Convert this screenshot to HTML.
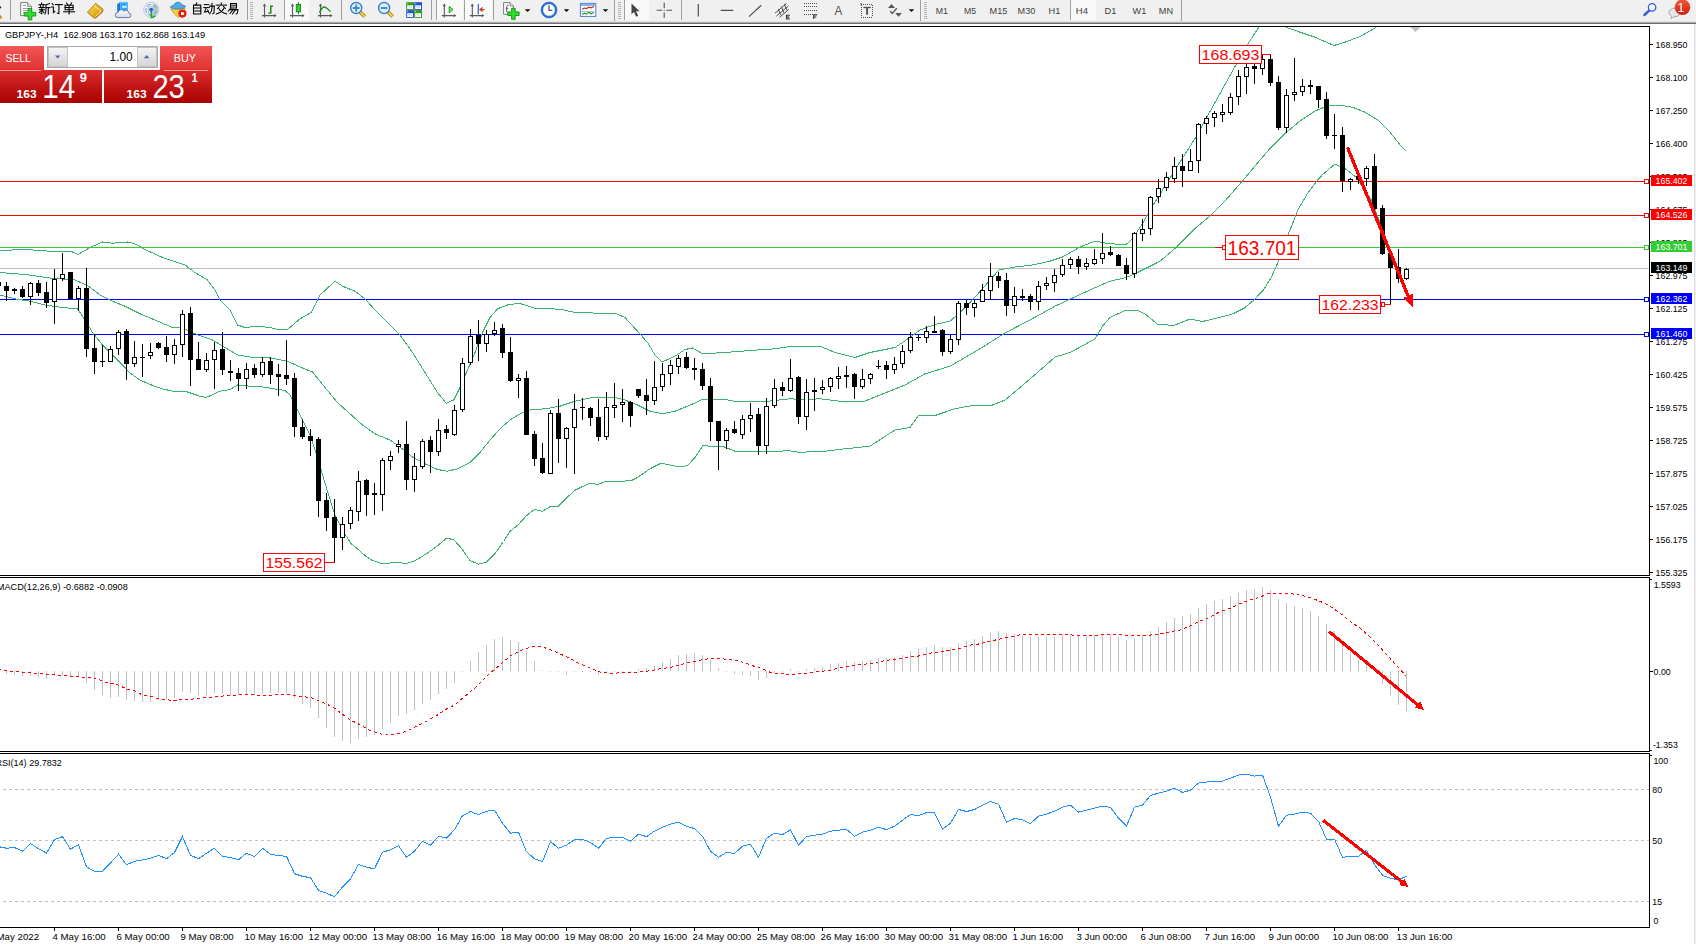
<!DOCTYPE html>
<html><head><meta charset="utf-8"><title>GBPJPY H4</title>
<style>
html,body{margin:0;padding:0;background:#fff;}
body{width:1696px;height:944px;overflow:hidden;font-family:"Liberation Sans",sans-serif;}
svg{display:block;position:absolute;left:0;top:0;}
svg text{font-family:"Liberation Sans",sans-serif;white-space:pre;}
.c{shape-rendering:crispEdges;}
</style></head><body>
<svg width="1696" height="944" viewBox="0 0 1696 944">
<defs>
<clipPath id="cpMain"><rect x="0" y="27" width="1649" height="548"/></clipPath>
<clipPath id="cpMacd"><rect x="0" y="578" width="1649" height="173"/></clipPath>
<clipPath id="cpRsi"><rect x="0" y="754" width="1649" height="173"/></clipPath>
<linearGradient id="gSell" x1="0" y1="0" x2="0" y2="1"><stop offset="0" stop-color="#f25555"/><stop offset="1" stop-color="#e03030"/></linearGradient>
<linearGradient id="gPrice" x1="0" y1="0" x2="0" y2="1"><stop offset="0" stop-color="#dc2c2c"/><stop offset="1" stop-color="#a80000"/></linearGradient>
<linearGradient id="gBtn" x1="0" y1="0" x2="0" y2="1"><stop offset="0" stop-color="#f4f4f4"/><stop offset="1" stop-color="#d4d4d4"/></linearGradient>
<linearGradient id="gBadge" x1="0" y1="0" x2="0" y2="1"><stop offset="0" stop-color="#ee5a3a"/><stop offset="1" stop-color="#d21a0c"/></linearGradient>
<linearGradient id="gTb" x1="0" y1="0" x2="0" y2="1"><stop offset="0" stop-color="#f0f0f0"/><stop offset="0.3" stop-color="#d8d8d8"/><stop offset="0.8" stop-color="#6a6a6a"/><stop offset="1" stop-color="#8a8a8a"/></linearGradient>
</defs>

<rect x="0" y="0" width="1696" height="944" fill="#fff"/>
<rect x="0" y="0" width="1696" height="21" fill="#f0f0f0"/>
<rect x="0" y="21" width="1696" height="3" fill="url(#gTb)"/>
<rect x="1694" y="24" width="1" height="920" fill="#dcdcdc" class="c"/>
<rect x="1695" y="24" width="1" height="920" fill="#f0f0f0" class="c"/>
<g class="c">
<rect x="0" y="26" width="1650" height="1" fill="#000"/>
<rect x="1649" y="26" width="1" height="550" fill="#000"/>
<rect x="0" y="575" width="1650" height="1" fill="#000"/>
<rect x="0" y="577" width="1650" height="1" fill="#000"/>
<rect x="1649" y="577" width="1" height="175" fill="#000"/>
<rect x="0" y="751" width="1650" height="1" fill="#000"/>
<rect x="0" y="753" width="1650" height="1" fill="#000"/>
<rect x="1649" y="753" width="1" height="175" fill="#000"/>
<rect x="0" y="927" width="1650" height="1" fill="#000"/>
</g>
<g clip-path="url(#cpMain)">
<g class="c">
<rect x="0" y="268" width="1649" height="1" fill="#c0c0c0"/>
<rect x="0" y="181" width="1649" height="1" fill="#ff0000"/>
<rect x="0" y="215" width="1649" height="1" fill="#ff0000"/>
<rect x="0" y="247" width="1649" height="1" fill="#32cd32"/>
<rect x="0" y="299" width="1649" height="1" fill="#0000ff"/>
<rect x="0" y="334" width="1649" height="1" fill="#0000ff"/>
</g>
<polyline points="0.0,250.5 25.0,249.5 50.0,251.2 72.5,252.0 78.0,254.5 90.0,247.5 102.5,242.0 112.5,243.2 127.5,242.0 135.0,243.8 145.0,249.5 162.5,257.5 185.0,265.0 195.0,272.5 207.5,280.0 215.0,290.0 220.0,300.0 230.0,310.0 237.5,325.0 245.0,327.5 257.5,326.2 270.0,327.5 280.0,330.0 287.5,329.5 300.0,318.8 311.2,312.5 320.0,295.0 335.0,281.2 342.5,286.2 355.0,291.2 365.0,298.8 375.0,310.0 387.5,322.5 400.0,335.0 412.5,352.5 425.0,372.5 437.5,392.5 446.2,403.2 453.8,400.0 460.0,387.5 467.5,370.0 475.0,352.5 482.5,332.5 490.0,317.5 497.5,308.8 507.5,305.0 518.8,303.2 527.5,305.8 535.0,308.2 560.0,309.2 575.0,312.5 600.0,313.2 615.0,313.2 625.0,317.5 637.5,331.2 647.5,342.5 655.0,355.0 662.0,362.0 675.0,356.2 685.0,349.5 692.5,348.0 702.5,353.8 725.0,352.5 750.0,350.5 775.0,348.8 790.0,346.5 812.5,346.5 820.0,346.2 835.0,352.5 855.0,357.5 870.0,352.5 895.0,347.5 906.2,340.0 920.0,330.0 935.0,324.5 950.0,321.2 960.0,312.5 970.0,302.5 982.5,288.8 998.8,270.0 1015.0,267.0 1032.5,265.0 1050.0,261.2 1062.5,257.0 1080.0,247.0 1095.0,241.2 1110.0,243.8 1126.2,244.5 1132.5,238.5 1142.5,223.5 1152.5,206.0 1165.0,186.0 1177.5,166.0 1195.0,138.5 1207.5,116.0 1220.0,93.5 1232.5,71.0 1245.0,48.5 1258.8,27.2 1266.0,17.0 1279.0,17.0 1286.2,27.2 1300.0,32.2 1315.0,37.2 1333.8,45.5 1345.0,42.2 1360.0,36.5 1375.0,28.0 1390.0,15.0 1406.5,5.0" fill="none" stroke="#3cb371" stroke-width="1" class="c"/>
<polyline points="0.0,272.5 25.0,274.5 50.0,278.0 75.0,280.0 87.5,285.5 100.0,295.0 112.5,301.2 125.0,306.2 140.0,313.8 155.0,320.0 172.5,327.5 182.5,328.0 195.0,333.8 212.5,340.0 225.0,347.5 237.5,355.0 250.0,357.0 262.5,357.0 275.0,358.8 287.5,361.2 300.0,367.0 312.5,372.0 325.0,387.5 337.5,402.5 350.0,413.8 362.5,425.0 375.0,433.8 390.0,440.0 400.0,447.0 412.5,457.0 425.0,463.8 437.5,469.5 447.5,471.2 457.5,468.8 470.0,462.5 480.0,452.5 490.0,440.0 500.0,428.8 510.0,420.0 520.0,413.8 530.0,410.0 545.0,408.8 560.0,406.2 575.0,401.2 590.0,398.0 605.0,397.0 615.0,397.5 625.0,400.0 637.5,405.0 650.0,411.2 662.5,413.8 675.0,411.2 687.5,406.2 702.5,399.5 725.0,399.5 737.5,401.8 762.5,401.8 775.0,400.5 790.0,398.8 805.0,399.5 820.0,398.8 840.0,401.2 862.5,402.0 880.0,395.0 905.0,385.0 925.0,373.8 950.0,366.2 965.0,357.5 980.0,348.8 1005.0,333.0 1030.0,320.0 1055.0,306.2 1072.5,298.0 1092.5,288.8 1110.0,281.2 1126.2,277.5 1135.0,273.8 1160.0,261.2 1177.5,246.2 1195.0,228.5 1210.0,216.0 1225.0,201.0 1242.5,181.0 1255.0,166.0 1270.0,148.5 1285.0,133.5 1300.0,121.0 1315.0,111.0 1327.5,106.0 1340.0,105.2 1352.5,107.2 1365.0,112.2 1377.5,119.8 1390.0,132.2 1400.0,144.8 1406.5,151.5" fill="none" stroke="#3cb371" stroke-width="1" class="c"/>
<polyline points="0.0,295.0 15.0,298.8 30.0,301.2 45.0,305.0 62.5,307.5 77.5,308.8 85.0,320.0 92.5,332.5 102.5,345.0 112.5,355.0 122.5,365.0 130.0,373.0 140.0,380.0 150.0,384.5 162.5,388.8 172.5,391.2 187.5,392.0 200.0,396.2 206.2,397.5 220.0,391.2 230.0,389.5 237.5,385.0 250.0,386.2 262.5,387.0 275.0,389.0 285.0,390.5 290.0,395.0 295.0,405.0 302.5,420.0 310.5,436.0 318.5,461.0 326.5,488.0 334.5,514.0 342.5,530.0 350.5,543.0 358.8,550.0 365.0,555.6 372.5,560.6 381.2,563.5 390.0,563.0 397.5,562.5 406.2,563.5 415.0,560.6 420.0,557.8 428.6,552.3 437.3,545.9 446.6,538.2 453.8,539.7 461.8,548.7 469.7,560.3 478.3,564.2 486.3,562.1 494.9,553.8 503.5,541.5 510.0,531.5 517.9,525.0 526.6,515.6 534.5,509.4 542.4,511.3 550.3,506.5 558.3,506.3 566.9,497.6 574.8,490.4 582.8,486.4 590.0,483.2 597.9,484.4 605.8,481.3 621.6,481.3 632.0,480.3 637.5,477.5 650.0,468.8 661.2,463.2 670.0,465.0 680.0,467.0 687.5,465.5 695.0,457.5 703.0,445.5 710.0,446.2 722.5,446.2 735.0,451.2 745.0,452.0 762.5,451.2 775.0,452.0 787.5,450.5 800.0,452.5 812.5,451.5 820.0,451.8 845.0,448.8 870.0,446.2 895.0,430.0 910.0,427.5 918.8,415.0 935.0,415.5 955.0,408.8 975.0,405.0 992.5,405.0 1005.0,400.0 1020.0,387.5 1037.5,372.5 1055.0,357.0 1070.0,352.5 1085.0,344.5 1095.0,338.8 1102.5,326.2 1110.0,317.5 1125.0,310.5 1137.5,310.5 1145.0,313.8 1157.5,324.2 1173.8,325.5 1190.0,319.0 1202.5,321.5 1215.9,318.3 1231.8,314.3 1244.5,308.0 1254.0,300.0 1263.6,289.7 1271.5,277.0 1277.9,262.6 1285.8,240.4 1292.2,224.5 1298.5,208.6 1308.0,192.7 1317.6,180.0 1322.7,174.5 1335.0,164.0 1346.0,169.2 1356.6,177.7 1371.4,200.0 1382.0,228.0 1393.7,263.2 1405.4,292.4 1406.5,294.0" fill="none" stroke="#3cb371" stroke-width="1" class="c"/>
<g class="c">
<rect x="0" y="282" width="1" height="4" fill="#000"/>
<rect x="6" y="282" width="1" height="19" fill="#000"/>
<rect x="4" y="286" width="5" height="5" fill="#000"/>
<rect x="14" y="288" width="1" height="6" fill="#000"/>
<rect x="12" y="289" width="5" height="2" fill="#000"/>
<rect x="22" y="286" width="1" height="12" fill="#000"/>
<rect x="20" y="289" width="5" height="8" fill="#000"/>
<rect x="30" y="282" width="1" height="23" fill="#000"/>
<rect x="28" y="283" width="5" height="14" fill="#000"/>
<rect x="29" y="284" width="3" height="12" fill="#fff"/>
<rect x="38" y="280" width="1" height="16" fill="#000"/>
<rect x="36" y="283" width="5" height="10" fill="#000"/>
<rect x="46" y="282" width="1" height="26" fill="#000"/>
<rect x="44" y="292" width="5" height="11" fill="#000"/>
<rect x="54" y="269" width="1" height="55" fill="#000"/>
<rect x="52" y="279" width="5" height="23" fill="#000"/>
<rect x="53" y="280" width="3" height="21" fill="#fff"/>
<rect x="62" y="253" width="1" height="28" fill="#000"/>
<rect x="60" y="274" width="5" height="5" fill="#000"/>
<rect x="61" y="275" width="3" height="3" fill="#fff"/>
<rect x="70" y="272" width="1" height="27" fill="#000"/>
<rect x="68" y="272" width="5" height="27" fill="#000"/>
<rect x="78" y="286" width="1" height="25" fill="#000"/>
<rect x="76" y="288" width="5" height="11" fill="#000"/>
<rect x="77" y="289" width="3" height="9" fill="#fff"/>
<rect x="86" y="268" width="1" height="89" fill="#000"/>
<rect x="84" y="288" width="5" height="61" fill="#000"/>
<rect x="94" y="334" width="1" height="40" fill="#000"/>
<rect x="92" y="348" width="5" height="14" fill="#000"/>
<rect x="102" y="345" width="1" height="22" fill="#000"/>
<rect x="100" y="361" width="5" height="1" fill="#000"/>
<rect x="110" y="346" width="1" height="16" fill="#000"/>
<rect x="108" y="349" width="5" height="13" fill="#000"/>
<rect x="109" y="350" width="3" height="11" fill="#fff"/>
<rect x="118" y="330" width="1" height="25" fill="#000"/>
<rect x="116" y="332" width="5" height="17" fill="#000"/>
<rect x="117" y="333" width="3" height="15" fill="#fff"/>
<rect x="126" y="329" width="1" height="51" fill="#000"/>
<rect x="124" y="331" width="5" height="33" fill="#000"/>
<rect x="134" y="341" width="1" height="26" fill="#000"/>
<rect x="132" y="357" width="5" height="7" fill="#000"/>
<rect x="133" y="358" width="3" height="5" fill="#fff"/>
<rect x="142" y="344" width="1" height="33" fill="#000"/>
<rect x="140" y="357" width="5" height="1" fill="#000"/>
<rect x="150" y="343" width="1" height="16" fill="#000"/>
<rect x="148" y="352" width="5" height="4" fill="#000"/>
<rect x="149" y="353" width="3" height="2" fill="#fff"/>
<rect x="158" y="342" width="1" height="7" fill="#000"/>
<rect x="156" y="343" width="5" height="5" fill="#000"/>
<rect x="166" y="336" width="1" height="26" fill="#000"/>
<rect x="164" y="347" width="5" height="8" fill="#000"/>
<rect x="174" y="339" width="1" height="25" fill="#000"/>
<rect x="172" y="345" width="5" height="10" fill="#000"/>
<rect x="173" y="346" width="3" height="8" fill="#fff"/>
<rect x="182" y="310" width="1" height="47" fill="#000"/>
<rect x="180" y="314" width="5" height="31" fill="#000"/>
<rect x="181" y="315" width="3" height="29" fill="#fff"/>
<rect x="190" y="307" width="1" height="79" fill="#000"/>
<rect x="188" y="313" width="5" height="47" fill="#000"/>
<rect x="198" y="342" width="1" height="28" fill="#000"/>
<rect x="196" y="359" width="5" height="11" fill="#000"/>
<rect x="206" y="353" width="1" height="19" fill="#000"/>
<rect x="204" y="360" width="5" height="10" fill="#000"/>
<rect x="205" y="361" width="3" height="8" fill="#fff"/>
<rect x="214" y="342" width="1" height="47" fill="#000"/>
<rect x="212" y="350" width="5" height="10" fill="#000"/>
<rect x="213" y="351" width="3" height="8" fill="#fff"/>
<rect x="222" y="332" width="1" height="43" fill="#000"/>
<rect x="220" y="349" width="5" height="21" fill="#000"/>
<rect x="230" y="360" width="1" height="21" fill="#000"/>
<rect x="228" y="371" width="5" height="2" fill="#000"/>
<rect x="238" y="368" width="1" height="23" fill="#000"/>
<rect x="236" y="373" width="5" height="6" fill="#000"/>
<rect x="246" y="363" width="1" height="26" fill="#000"/>
<rect x="244" y="369" width="5" height="10" fill="#000"/>
<rect x="245" y="370" width="3" height="8" fill="#fff"/>
<rect x="254" y="364" width="1" height="14" fill="#000"/>
<rect x="252" y="368" width="5" height="7" fill="#000"/>
<rect x="262" y="357" width="1" height="20" fill="#000"/>
<rect x="260" y="362" width="5" height="13" fill="#000"/>
<rect x="261" y="363" width="3" height="11" fill="#fff"/>
<rect x="270" y="357" width="1" height="27" fill="#000"/>
<rect x="268" y="361" width="5" height="14" fill="#000"/>
<rect x="278" y="364" width="1" height="32" fill="#000"/>
<rect x="276" y="374" width="5" height="3" fill="#000"/>
<rect x="286" y="340" width="1" height="45" fill="#000"/>
<rect x="284" y="375" width="5" height="4" fill="#000"/>
<rect x="294" y="373" width="1" height="64" fill="#000"/>
<rect x="292" y="378" width="5" height="49" fill="#000"/>
<rect x="302" y="419" width="1" height="20" fill="#000"/>
<rect x="300" y="427" width="5" height="10" fill="#000"/>
<rect x="310" y="429" width="1" height="27" fill="#000"/>
<rect x="308" y="436" width="5" height="5" fill="#000"/>
<rect x="318" y="437" width="1" height="80" fill="#000"/>
<rect x="316" y="439" width="5" height="62" fill="#000"/>
<rect x="326" y="493" width="1" height="38" fill="#000"/>
<rect x="324" y="500" width="5" height="18" fill="#000"/>
<rect x="334" y="499" width="1" height="64" fill="#000"/>
<rect x="332" y="517" width="5" height="21" fill="#000"/>
<rect x="342" y="517" width="1" height="33" fill="#000"/>
<rect x="340" y="524" width="5" height="14" fill="#000"/>
<rect x="341" y="525" width="3" height="12" fill="#fff"/>
<rect x="350" y="507" width="1" height="22" fill="#000"/>
<rect x="348" y="510" width="5" height="14" fill="#000"/>
<rect x="349" y="511" width="3" height="12" fill="#fff"/>
<rect x="358" y="471" width="1" height="50" fill="#000"/>
<rect x="356" y="481" width="5" height="31" fill="#000"/>
<rect x="357" y="482" width="3" height="29" fill="#fff"/>
<rect x="366" y="479" width="1" height="37" fill="#000"/>
<rect x="364" y="480" width="5" height="15" fill="#000"/>
<rect x="374" y="483" width="1" height="32" fill="#000"/>
<rect x="372" y="493" width="5" height="2" fill="#000"/>
<rect x="382" y="458" width="1" height="53" fill="#000"/>
<rect x="380" y="460" width="5" height="35" fill="#000"/>
<rect x="381" y="461" width="3" height="33" fill="#fff"/>
<rect x="390" y="451" width="1" height="19" fill="#000"/>
<rect x="388" y="456" width="5" height="5" fill="#000"/>
<rect x="389" y="457" width="3" height="3" fill="#fff"/>
<rect x="398" y="440" width="1" height="13" fill="#000"/>
<rect x="396" y="444" width="5" height="3" fill="#000"/>
<rect x="397" y="445" width="3" height="1" fill="#fff"/>
<rect x="406" y="421" width="1" height="69" fill="#000"/>
<rect x="404" y="444" width="5" height="36" fill="#000"/>
<rect x="414" y="453" width="1" height="39" fill="#000"/>
<rect x="412" y="466" width="5" height="14" fill="#000"/>
<rect x="413" y="467" width="3" height="12" fill="#fff"/>
<rect x="422" y="439" width="1" height="30" fill="#000"/>
<rect x="420" y="441" width="5" height="26" fill="#000"/>
<rect x="421" y="442" width="3" height="24" fill="#fff"/>
<rect x="430" y="436" width="1" height="37" fill="#000"/>
<rect x="428" y="440" width="5" height="12" fill="#000"/>
<rect x="438" y="419" width="1" height="37" fill="#000"/>
<rect x="436" y="430" width="5" height="22" fill="#000"/>
<rect x="437" y="431" width="3" height="20" fill="#fff"/>
<rect x="446" y="425" width="1" height="14" fill="#000"/>
<rect x="444" y="429" width="5" height="4" fill="#000"/>
<rect x="454" y="405" width="1" height="31" fill="#000"/>
<rect x="452" y="410" width="5" height="25" fill="#000"/>
<rect x="453" y="411" width="3" height="23" fill="#fff"/>
<rect x="462" y="358" width="1" height="54" fill="#000"/>
<rect x="460" y="363" width="5" height="47" fill="#000"/>
<rect x="461" y="364" width="3" height="45" fill="#fff"/>
<rect x="470" y="329" width="1" height="36" fill="#000"/>
<rect x="468" y="336" width="5" height="27" fill="#000"/>
<rect x="469" y="337" width="3" height="25" fill="#fff"/>
<rect x="478" y="320" width="1" height="41" fill="#000"/>
<rect x="476" y="335" width="5" height="9" fill="#000"/>
<rect x="486" y="330" width="1" height="22" fill="#000"/>
<rect x="484" y="334" width="5" height="10" fill="#000"/>
<rect x="485" y="335" width="3" height="8" fill="#fff"/>
<rect x="494" y="322" width="1" height="14" fill="#000"/>
<rect x="492" y="330" width="5" height="4" fill="#000"/>
<rect x="493" y="331" width="3" height="2" fill="#fff"/>
<rect x="502" y="324" width="1" height="34" fill="#000"/>
<rect x="500" y="328" width="5" height="25" fill="#000"/>
<rect x="510" y="337" width="1" height="45" fill="#000"/>
<rect x="508" y="352" width="5" height="29" fill="#000"/>
<rect x="518" y="374" width="1" height="24" fill="#000"/>
<rect x="516" y="378" width="5" height="3" fill="#000"/>
<rect x="517" y="379" width="3" height="1" fill="#fff"/>
<rect x="526" y="371" width="1" height="64" fill="#000"/>
<rect x="524" y="378" width="5" height="57" fill="#000"/>
<rect x="534" y="431" width="1" height="35" fill="#000"/>
<rect x="532" y="434" width="5" height="25" fill="#000"/>
<rect x="542" y="443" width="1" height="31" fill="#000"/>
<rect x="540" y="458" width="5" height="15" fill="#000"/>
<rect x="550" y="410" width="1" height="64" fill="#000"/>
<rect x="548" y="413" width="5" height="61" fill="#000"/>
<rect x="549" y="414" width="3" height="59" fill="#fff"/>
<rect x="558" y="399" width="1" height="64" fill="#000"/>
<rect x="556" y="413" width="5" height="26" fill="#000"/>
<rect x="566" y="427" width="1" height="41" fill="#000"/>
<rect x="564" y="428" width="5" height="11" fill="#000"/>
<rect x="565" y="429" width="3" height="9" fill="#fff"/>
<rect x="574" y="394" width="1" height="80" fill="#000"/>
<rect x="572" y="409" width="5" height="19" fill="#000"/>
<rect x="573" y="410" width="3" height="17" fill="#fff"/>
<rect x="582" y="398" width="1" height="22" fill="#000"/>
<rect x="580" y="407" width="5" height="1" fill="#000"/>
<rect x="590" y="407" width="1" height="19" fill="#000"/>
<rect x="588" y="408" width="5" height="10" fill="#000"/>
<rect x="598" y="399" width="1" height="42" fill="#000"/>
<rect x="596" y="417" width="5" height="20" fill="#000"/>
<rect x="606" y="392" width="1" height="48" fill="#000"/>
<rect x="604" y="407" width="5" height="30" fill="#000"/>
<rect x="605" y="408" width="3" height="28" fill="#fff"/>
<rect x="614" y="383" width="1" height="35" fill="#000"/>
<rect x="612" y="405" width="5" height="3" fill="#000"/>
<rect x="613" y="406" width="3" height="1" fill="#fff"/>
<rect x="622" y="389" width="1" height="33" fill="#000"/>
<rect x="620" y="402" width="5" height="3" fill="#000"/>
<rect x="621" y="403" width="3" height="1" fill="#fff"/>
<rect x="630" y="401" width="1" height="26" fill="#000"/>
<rect x="628" y="402" width="5" height="14" fill="#000"/>
<rect x="638" y="389" width="1" height="9" fill="#000"/>
<rect x="636" y="389" width="5" height="7" fill="#000"/>
<rect x="646" y="379" width="1" height="36" fill="#000"/>
<rect x="644" y="395" width="5" height="6" fill="#000"/>
<rect x="654" y="361" width="1" height="44" fill="#000"/>
<rect x="652" y="387" width="5" height="14" fill="#000"/>
<rect x="653" y="388" width="3" height="12" fill="#fff"/>
<rect x="662" y="363" width="1" height="28" fill="#000"/>
<rect x="660" y="374" width="5" height="13" fill="#000"/>
<rect x="661" y="375" width="3" height="11" fill="#fff"/>
<rect x="670" y="360" width="1" height="25" fill="#000"/>
<rect x="668" y="365" width="5" height="9" fill="#000"/>
<rect x="669" y="366" width="3" height="7" fill="#fff"/>
<rect x="678" y="355" width="1" height="19" fill="#000"/>
<rect x="676" y="358" width="5" height="9" fill="#000"/>
<rect x="677" y="359" width="3" height="7" fill="#fff"/>
<rect x="686" y="352" width="1" height="17" fill="#000"/>
<rect x="684" y="357" width="5" height="11" fill="#000"/>
<rect x="694" y="358" width="1" height="22" fill="#000"/>
<rect x="692" y="368" width="5" height="2" fill="#000"/>
<rect x="702" y="363" width="1" height="27" fill="#000"/>
<rect x="700" y="369" width="5" height="17" fill="#000"/>
<rect x="710" y="378" width="1" height="63" fill="#000"/>
<rect x="708" y="386" width="5" height="36" fill="#000"/>
<rect x="718" y="421" width="1" height="49" fill="#000"/>
<rect x="716" y="421" width="5" height="20" fill="#000"/>
<rect x="726" y="428" width="1" height="21" fill="#000"/>
<rect x="724" y="430" width="5" height="11" fill="#000"/>
<rect x="725" y="431" width="3" height="9" fill="#fff"/>
<rect x="734" y="421" width="1" height="13" fill="#000"/>
<rect x="732" y="429" width="5" height="4" fill="#000"/>
<rect x="742" y="415" width="1" height="24" fill="#000"/>
<rect x="740" y="419" width="5" height="16" fill="#000"/>
<rect x="741" y="420" width="3" height="14" fill="#fff"/>
<rect x="750" y="403" width="1" height="29" fill="#000"/>
<rect x="748" y="415" width="5" height="4" fill="#000"/>
<rect x="749" y="416" width="3" height="2" fill="#fff"/>
<rect x="758" y="408" width="1" height="47" fill="#000"/>
<rect x="756" y="414" width="5" height="32" fill="#000"/>
<rect x="766" y="398" width="1" height="56" fill="#000"/>
<rect x="764" y="406" width="5" height="40" fill="#000"/>
<rect x="765" y="407" width="3" height="38" fill="#fff"/>
<rect x="774" y="379" width="1" height="29" fill="#000"/>
<rect x="772" y="388" width="5" height="18" fill="#000"/>
<rect x="773" y="389" width="3" height="16" fill="#fff"/>
<rect x="782" y="382" width="1" height="14" fill="#000"/>
<rect x="780" y="387" width="5" height="4" fill="#000"/>
<rect x="790" y="359" width="1" height="33" fill="#000"/>
<rect x="788" y="378" width="5" height="13" fill="#000"/>
<rect x="789" y="379" width="3" height="11" fill="#fff"/>
<rect x="798" y="376" width="1" height="48" fill="#000"/>
<rect x="796" y="377" width="5" height="40" fill="#000"/>
<rect x="806" y="379" width="1" height="51" fill="#000"/>
<rect x="804" y="392" width="5" height="25" fill="#000"/>
<rect x="805" y="393" width="3" height="23" fill="#fff"/>
<rect x="814" y="378" width="1" height="33" fill="#000"/>
<rect x="812" y="390" width="5" height="2" fill="#000"/>
<rect x="822" y="380" width="1" height="14" fill="#000"/>
<rect x="820" y="387" width="5" height="3" fill="#000"/>
<rect x="821" y="388" width="3" height="1" fill="#fff"/>
<rect x="830" y="377" width="1" height="15" fill="#000"/>
<rect x="828" y="378" width="5" height="9" fill="#000"/>
<rect x="829" y="379" width="3" height="7" fill="#fff"/>
<rect x="838" y="367" width="1" height="22" fill="#000"/>
<rect x="836" y="376" width="5" height="3" fill="#000"/>
<rect x="837" y="377" width="3" height="1" fill="#fff"/>
<rect x="846" y="366" width="1" height="22" fill="#000"/>
<rect x="844" y="375" width="5" height="2" fill="#000"/>
<rect x="854" y="373" width="1" height="26" fill="#000"/>
<rect x="852" y="374" width="5" height="13" fill="#000"/>
<rect x="862" y="369" width="1" height="20" fill="#000"/>
<rect x="860" y="379" width="5" height="8" fill="#000"/>
<rect x="861" y="380" width="3" height="6" fill="#fff"/>
<rect x="870" y="373" width="1" height="11" fill="#000"/>
<rect x="868" y="374" width="5" height="5" fill="#000"/>
<rect x="869" y="375" width="3" height="3" fill="#fff"/>
<rect x="878" y="360" width="1" height="9" fill="#000"/>
<rect x="876" y="366" width="5" height="1" fill="#000"/>
<rect x="886" y="361" width="1" height="18" fill="#000"/>
<rect x="884" y="365" width="5" height="5" fill="#000"/>
<rect x="894" y="357" width="1" height="17" fill="#000"/>
<rect x="892" y="364" width="5" height="6" fill="#000"/>
<rect x="893" y="365" width="3" height="4" fill="#fff"/>
<rect x="902" y="345" width="1" height="23" fill="#000"/>
<rect x="900" y="351" width="5" height="13" fill="#000"/>
<rect x="901" y="352" width="3" height="11" fill="#fff"/>
<rect x="910" y="332" width="1" height="21" fill="#000"/>
<rect x="908" y="337" width="5" height="14" fill="#000"/>
<rect x="909" y="338" width="3" height="12" fill="#fff"/>
<rect x="918" y="334" width="1" height="7" fill="#000"/>
<rect x="916" y="337" width="5" height="1" fill="#000"/>
<rect x="926" y="326" width="1" height="17" fill="#000"/>
<rect x="924" y="331" width="5" height="7" fill="#000"/>
<rect x="925" y="332" width="3" height="5" fill="#fff"/>
<rect x="934" y="316" width="1" height="17" fill="#000"/>
<rect x="932" y="331" width="5" height="2" fill="#000"/>
<rect x="942" y="329" width="1" height="27" fill="#000"/>
<rect x="940" y="330" width="5" height="22" fill="#000"/>
<rect x="950" y="335" width="1" height="19" fill="#000"/>
<rect x="948" y="339" width="5" height="13" fill="#000"/>
<rect x="949" y="340" width="3" height="11" fill="#fff"/>
<rect x="958" y="301" width="1" height="44" fill="#000"/>
<rect x="956" y="303" width="5" height="37" fill="#000"/>
<rect x="957" y="304" width="3" height="35" fill="#fff"/>
<rect x="966" y="300" width="1" height="15" fill="#000"/>
<rect x="964" y="303" width="5" height="5" fill="#000"/>
<rect x="974" y="300" width="1" height="17" fill="#000"/>
<rect x="972" y="303" width="5" height="5" fill="#000"/>
<rect x="973" y="304" width="3" height="3" fill="#fff"/>
<rect x="982" y="284" width="1" height="18" fill="#000"/>
<rect x="980" y="290" width="5" height="12" fill="#000"/>
<rect x="981" y="291" width="3" height="10" fill="#fff"/>
<rect x="990" y="263" width="1" height="37" fill="#000"/>
<rect x="988" y="276" width="5" height="15" fill="#000"/>
<rect x="989" y="277" width="3" height="13" fill="#fff"/>
<rect x="998" y="272" width="1" height="16" fill="#000"/>
<rect x="996" y="276" width="5" height="5" fill="#000"/>
<rect x="1006" y="273" width="1" height="43" fill="#000"/>
<rect x="1004" y="280" width="5" height="26" fill="#000"/>
<rect x="1014" y="287" width="1" height="26" fill="#000"/>
<rect x="1012" y="296" width="5" height="10" fill="#000"/>
<rect x="1013" y="297" width="3" height="8" fill="#fff"/>
<rect x="1022" y="289" width="1" height="12" fill="#000"/>
<rect x="1020" y="296" width="5" height="2" fill="#000"/>
<rect x="1030" y="294" width="1" height="16" fill="#000"/>
<rect x="1028" y="296" width="5" height="6" fill="#000"/>
<rect x="1038" y="281" width="1" height="29" fill="#000"/>
<rect x="1036" y="286" width="5" height="16" fill="#000"/>
<rect x="1037" y="287" width="3" height="14" fill="#fff"/>
<rect x="1046" y="277" width="1" height="13" fill="#000"/>
<rect x="1044" y="283" width="5" height="3" fill="#000"/>
<rect x="1045" y="284" width="3" height="1" fill="#fff"/>
<rect x="1054" y="269" width="1" height="23" fill="#000"/>
<rect x="1052" y="275" width="5" height="8" fill="#000"/>
<rect x="1053" y="276" width="3" height="6" fill="#fff"/>
<rect x="1062" y="259" width="1" height="18" fill="#000"/>
<rect x="1060" y="265" width="5" height="10" fill="#000"/>
<rect x="1061" y="266" width="3" height="8" fill="#fff"/>
<rect x="1070" y="257" width="1" height="12" fill="#000"/>
<rect x="1068" y="259" width="5" height="6" fill="#000"/>
<rect x="1069" y="260" width="3" height="4" fill="#fff"/>
<rect x="1078" y="256" width="1" height="18" fill="#000"/>
<rect x="1076" y="259" width="5" height="8" fill="#000"/>
<rect x="1086" y="258" width="1" height="12" fill="#000"/>
<rect x="1084" y="263" width="5" height="4" fill="#000"/>
<rect x="1085" y="264" width="3" height="2" fill="#fff"/>
<rect x="1094" y="249" width="1" height="16" fill="#000"/>
<rect x="1092" y="259" width="5" height="5" fill="#000"/>
<rect x="1093" y="260" width="3" height="3" fill="#fff"/>
<rect x="1102" y="233" width="1" height="31" fill="#000"/>
<rect x="1100" y="253" width="5" height="6" fill="#000"/>
<rect x="1101" y="254" width="3" height="4" fill="#fff"/>
<rect x="1110" y="246" width="1" height="10" fill="#000"/>
<rect x="1108" y="252" width="5" height="3" fill="#000"/>
<rect x="1118" y="254" width="1" height="12" fill="#000"/>
<rect x="1116" y="255" width="5" height="11" fill="#000"/>
<rect x="1126" y="258" width="1" height="22" fill="#000"/>
<rect x="1124" y="265" width="5" height="9" fill="#000"/>
<rect x="1134" y="232" width="1" height="46" fill="#000"/>
<rect x="1132" y="233" width="5" height="41" fill="#000"/>
<rect x="1133" y="234" width="3" height="39" fill="#fff"/>
<rect x="1142" y="219" width="1" height="22" fill="#000"/>
<rect x="1140" y="229" width="5" height="5" fill="#000"/>
<rect x="1141" y="230" width="3" height="3" fill="#fff"/>
<rect x="1150" y="196" width="1" height="39" fill="#000"/>
<rect x="1148" y="197" width="5" height="32" fill="#000"/>
<rect x="1149" y="198" width="3" height="30" fill="#fff"/>
<rect x="1158" y="179" width="1" height="24" fill="#000"/>
<rect x="1156" y="188" width="5" height="9" fill="#000"/>
<rect x="1157" y="189" width="3" height="7" fill="#fff"/>
<rect x="1166" y="172" width="1" height="19" fill="#000"/>
<rect x="1164" y="177" width="5" height="11" fill="#000"/>
<rect x="1165" y="178" width="3" height="9" fill="#fff"/>
<rect x="1174" y="157" width="1" height="26" fill="#000"/>
<rect x="1172" y="166" width="5" height="13" fill="#000"/>
<rect x="1173" y="167" width="3" height="11" fill="#fff"/>
<rect x="1182" y="154" width="1" height="33" fill="#000"/>
<rect x="1180" y="166" width="5" height="5" fill="#000"/>
<rect x="1190" y="149" width="1" height="22" fill="#000"/>
<rect x="1188" y="161" width="5" height="10" fill="#000"/>
<rect x="1189" y="162" width="3" height="8" fill="#fff"/>
<rect x="1198" y="123" width="1" height="50" fill="#000"/>
<rect x="1196" y="124" width="5" height="37" fill="#000"/>
<rect x="1197" y="125" width="3" height="35" fill="#fff"/>
<rect x="1206" y="116" width="1" height="18" fill="#000"/>
<rect x="1204" y="118" width="5" height="6" fill="#000"/>
<rect x="1205" y="119" width="3" height="4" fill="#fff"/>
<rect x="1214" y="111" width="1" height="16" fill="#000"/>
<rect x="1212" y="113" width="5" height="5" fill="#000"/>
<rect x="1213" y="114" width="3" height="3" fill="#fff"/>
<rect x="1222" y="104" width="1" height="18" fill="#000"/>
<rect x="1220" y="112" width="5" height="3" fill="#000"/>
<rect x="1221" y="113" width="3" height="1" fill="#fff"/>
<rect x="1230" y="93" width="1" height="22" fill="#000"/>
<rect x="1228" y="97" width="5" height="16" fill="#000"/>
<rect x="1229" y="98" width="3" height="14" fill="#fff"/>
<rect x="1238" y="70" width="1" height="35" fill="#000"/>
<rect x="1236" y="76" width="5" height="21" fill="#000"/>
<rect x="1237" y="77" width="3" height="19" fill="#fff"/>
<rect x="1246" y="62" width="1" height="32" fill="#000"/>
<rect x="1244" y="67" width="5" height="10" fill="#000"/>
<rect x="1245" y="68" width="3" height="8" fill="#fff"/>
<rect x="1254" y="63" width="1" height="21" fill="#000"/>
<rect x="1252" y="66" width="5" height="3" fill="#000"/>
<rect x="1262" y="55" width="1" height="20" fill="#000"/>
<rect x="1260" y="59" width="5" height="10" fill="#000"/>
<rect x="1261" y="60" width="3" height="8" fill="#fff"/>
<rect x="1270" y="54" width="1" height="32" fill="#000"/>
<rect x="1268" y="59" width="5" height="24" fill="#000"/>
<rect x="1278" y="76" width="1" height="54" fill="#000"/>
<rect x="1276" y="82" width="5" height="46" fill="#000"/>
<rect x="1286" y="89" width="1" height="44" fill="#000"/>
<rect x="1284" y="95" width="5" height="33" fill="#000"/>
<rect x="1285" y="96" width="3" height="31" fill="#fff"/>
<rect x="1294" y="58" width="1" height="43" fill="#000"/>
<rect x="1292" y="92" width="5" height="3" fill="#000"/>
<rect x="1293" y="93" width="3" height="1" fill="#fff"/>
<rect x="1302" y="79" width="1" height="17" fill="#000"/>
<rect x="1300" y="86" width="5" height="6" fill="#000"/>
<rect x="1301" y="87" width="3" height="4" fill="#fff"/>
<rect x="1310" y="80" width="1" height="14" fill="#000"/>
<rect x="1308" y="85" width="5" height="2" fill="#000"/>
<rect x="1318" y="86" width="1" height="22" fill="#000"/>
<rect x="1316" y="86" width="5" height="14" fill="#000"/>
<rect x="1326" y="92" width="1" height="47" fill="#000"/>
<rect x="1324" y="99" width="5" height="37" fill="#000"/>
<rect x="1334" y="114" width="1" height="35" fill="#000"/>
<rect x="1332" y="135" width="5" height="1" fill="#000"/>
<rect x="1342" y="127" width="1" height="65" fill="#000"/>
<rect x="1340" y="135" width="5" height="46" fill="#000"/>
<rect x="1350" y="178" width="1" height="12" fill="#000"/>
<rect x="1348" y="179" width="5" height="3" fill="#000"/>
<rect x="1349" y="180" width="3" height="1" fill="#fff"/>
<rect x="1358" y="175" width="1" height="9" fill="#000"/>
<rect x="1356" y="176" width="5" height="4" fill="#000"/>
<rect x="1366" y="166" width="1" height="20" fill="#000"/>
<rect x="1364" y="168" width="5" height="11" fill="#000"/>
<rect x="1365" y="169" width="3" height="9" fill="#fff"/>
<rect x="1374" y="154" width="1" height="55" fill="#000"/>
<rect x="1372" y="166" width="5" height="43" fill="#000"/>
<rect x="1382" y="205" width="1" height="50" fill="#000"/>
<rect x="1380" y="208" width="5" height="46" fill="#000"/>
<rect x="1390" y="252" width="1" height="53" fill="#000"/>
<rect x="1388" y="253" width="5" height="15" fill="#000"/>
<rect x="1398" y="249" width="1" height="34" fill="#000"/>
<rect x="1396" y="267" width="5" height="12" fill="#000"/>
<rect x="1406" y="268" width="1" height="12" fill="#000"/>
<rect x="1404" y="269" width="5" height="10" fill="#000"/>
<rect x="1405" y="270" width="3" height="8" fill="#fff"/>
</g>
<g class="c">
<rect x="1644" y="179" width="5" height="5" fill="#ff0000"/>
<rect x="1645" y="180" width="3" height="3" fill="#fff"/>
<rect x="1644" y="213" width="5" height="5" fill="#ff0000"/>
<rect x="1645" y="214" width="3" height="3" fill="#fff"/>
<rect x="1644" y="245" width="5" height="5" fill="#32cd32"/>
<rect x="1645" y="246" width="3" height="3" fill="#fff"/>
<rect x="1644" y="297" width="5" height="5" fill="#0000ff"/>
<rect x="1645" y="298" width="3" height="3" fill="#fff"/>
<rect x="1644" y="332" width="5" height="5" fill="#0000ff"/>
<rect x="1645" y="333" width="3" height="3" fill="#fff"/>
</g>
<rect x="1199.5" y="45.5" width="62" height="18" fill="#fff" stroke="#ff0000" stroke-width="1" class="c"/>
<text x="1201.60" y="60.40" font-size="15.5" fill="#ff0000" text-anchor="start" textLength="57.80" lengthAdjust="spacingAndGlyphs">168.693</text>
<rect x="1261" y="54" width="10" height="1" fill="#ff0000" class="c"/>
<rect x="263.5" y="553.5" width="61" height="18" fill="#fff" stroke="#ff0000" stroke-width="1" class="c"/>
<text x="265.60" y="568.40" font-size="15.5" fill="#ff0000" text-anchor="start" textLength="56.80" lengthAdjust="spacingAndGlyphs">155.562</text>
<rect x="325" y="562" width="10" height="1" fill="#ff0000" class="c"/>
<rect x="1225.5" y="235.5" width="73" height="24" fill="#fff" stroke="#ff0000" stroke-width="1" class="c"/>
<text x="1227.60" y="255.40" font-size="20.6" fill="#ff0000" text-anchor="start" textLength="68.80" lengthAdjust="spacingAndGlyphs">163.701</text>
<rect x="1215" y="247" width="10" height="1" fill="#ff0000" class="c"/>
<rect x="1222.5" y="245.5" width="3" height="4" fill="#fff" stroke="#ff0000" stroke-width="1" class="c"/>
<rect x="1319.5" y="295.5" width="61" height="18" fill="#fff" stroke="#ff0000" stroke-width="1" class="c"/>
<text x="1321.60" y="310.40" font-size="15.5" fill="#ff0000" text-anchor="start" textLength="56.80" lengthAdjust="spacingAndGlyphs">162.233</text>
<rect x="1381" y="304" width="10" height="1" fill="#ff0000" class="c"/>
<rect x="1381.5" y="302.5" width="3" height="4" fill="#fff" stroke="#ff0000" stroke-width="1" class="c"/>
<line x1="1347.5" y1="147.5" x2="1408.8" y2="297.7" stroke="#ff0000" stroke-width="3.3" stroke-linecap="butt" class="c"/>
<polygon points="1412.6,307.0 1403.3,297.9 1412.9,293.9" fill="#ff0000" class="c"/>
<polygon points="1410.5,27 1420.5,27 1415.5,32.3" fill="#c0c0c0"/>
</g>
<g clip-path="url(#cpMacd)">
<g class="c">
<rect x="6" y="671" width="1" height="3" fill="#c0c0c0"/>
<rect x="14" y="671" width="1" height="4" fill="#c0c0c0"/>
<rect x="22" y="671" width="1" height="5" fill="#c0c0c0"/>
<rect x="30" y="671" width="1" height="5" fill="#c0c0c0"/>
<rect x="38" y="671" width="1" height="6" fill="#c0c0c0"/>
<rect x="46" y="671" width="1" height="7" fill="#c0c0c0"/>
<rect x="54" y="671" width="1" height="5" fill="#c0c0c0"/>
<rect x="62" y="671" width="1" height="4" fill="#c0c0c0"/>
<rect x="70" y="671" width="1" height="5" fill="#c0c0c0"/>
<rect x="78" y="671" width="1" height="5" fill="#c0c0c0"/>
<rect x="86" y="671" width="1" height="12" fill="#c0c0c0"/>
<rect x="94" y="671" width="1" height="19" fill="#c0c0c0"/>
<rect x="102" y="671" width="1" height="24" fill="#c0c0c0"/>
<rect x="110" y="671" width="1" height="27" fill="#c0c0c0"/>
<rect x="118" y="671" width="1" height="26" fill="#c0c0c0"/>
<rect x="126" y="671" width="1" height="29" fill="#c0c0c0"/>
<rect x="134" y="671" width="1" height="30" fill="#c0c0c0"/>
<rect x="142" y="671" width="1" height="31" fill="#c0c0c0"/>
<rect x="150" y="671" width="1" height="31" fill="#c0c0c0"/>
<rect x="158" y="671" width="1" height="29" fill="#c0c0c0"/>
<rect x="166" y="671" width="1" height="28" fill="#c0c0c0"/>
<rect x="174" y="671" width="1" height="27" fill="#c0c0c0"/>
<rect x="182" y="671" width="1" height="21" fill="#c0c0c0"/>
<rect x="190" y="671" width="1" height="22" fill="#c0c0c0"/>
<rect x="198" y="671" width="1" height="24" fill="#c0c0c0"/>
<rect x="206" y="671" width="1" height="24" fill="#c0c0c0"/>
<rect x="214" y="671" width="1" height="22" fill="#c0c0c0"/>
<rect x="222" y="671" width="1" height="23" fill="#c0c0c0"/>
<rect x="230" y="671" width="1" height="24" fill="#c0c0c0"/>
<rect x="238" y="671" width="1" height="24" fill="#c0c0c0"/>
<rect x="246" y="671" width="1" height="24" fill="#c0c0c0"/>
<rect x="254" y="671" width="1" height="24" fill="#c0c0c0"/>
<rect x="262" y="671" width="1" height="23" fill="#c0c0c0"/>
<rect x="270" y="671" width="1" height="22" fill="#c0c0c0"/>
<rect x="278" y="671" width="1" height="22" fill="#c0c0c0"/>
<rect x="286" y="671" width="1" height="23" fill="#c0c0c0"/>
<rect x="294" y="671" width="1" height="27" fill="#c0c0c0"/>
<rect x="302" y="671" width="1" height="33" fill="#c0c0c0"/>
<rect x="310" y="671" width="1" height="37" fill="#c0c0c0"/>
<rect x="318" y="671" width="1" height="47" fill="#c0c0c0"/>
<rect x="326" y="671" width="1" height="57" fill="#c0c0c0"/>
<rect x="334" y="671" width="1" height="66" fill="#c0c0c0"/>
<rect x="342" y="671" width="1" height="70" fill="#c0c0c0"/>
<rect x="350" y="671" width="1" height="72" fill="#c0c0c0"/>
<rect x="358" y="671" width="1" height="68" fill="#c0c0c0"/>
<rect x="366" y="671" width="1" height="66" fill="#c0c0c0"/>
<rect x="374" y="671" width="1" height="64" fill="#c0c0c0"/>
<rect x="382" y="671" width="1" height="58" fill="#c0c0c0"/>
<rect x="390" y="671" width="1" height="52" fill="#c0c0c0"/>
<rect x="398" y="671" width="1" height="45" fill="#c0c0c0"/>
<rect x="406" y="671" width="1" height="43" fill="#c0c0c0"/>
<rect x="414" y="671" width="1" height="39" fill="#c0c0c0"/>
<rect x="422" y="671" width="1" height="33" fill="#c0c0c0"/>
<rect x="430" y="671" width="1" height="29" fill="#c0c0c0"/>
<rect x="438" y="671" width="1" height="23" fill="#c0c0c0"/>
<rect x="446" y="671" width="1" height="18" fill="#c0c0c0"/>
<rect x="454" y="671" width="1" height="12" fill="#c0c0c0"/>
<rect x="462" y="671" width="1" height="1" fill="#c0c0c0"/>
<rect x="470" y="661" width="1" height="10" fill="#c0c0c0"/>
<rect x="478" y="652" width="1" height="19" fill="#c0c0c0"/>
<rect x="486" y="645" width="1" height="26" fill="#c0c0c0"/>
<rect x="494" y="639" width="1" height="32" fill="#c0c0c0"/>
<rect x="502" y="637" width="1" height="34" fill="#c0c0c0"/>
<rect x="510" y="640" width="1" height="31" fill="#c0c0c0"/>
<rect x="518" y="642" width="1" height="29" fill="#c0c0c0"/>
<rect x="526" y="651" width="1" height="20" fill="#c0c0c0"/>
<rect x="534" y="661" width="1" height="10" fill="#c0c0c0"/>
<rect x="542" y="670" width="1" height="1" fill="#c0c0c0"/>
<rect x="550" y="671" width="1" height="1" fill="#c0c0c0"/>
<rect x="558" y="671" width="1" height="1" fill="#c0c0c0"/>
<rect x="566" y="671" width="1" height="4" fill="#c0c0c0"/>
<rect x="574" y="671" width="1" height="1" fill="#c0c0c0"/>
<rect x="582" y="671" width="1" height="1" fill="#c0c0c0"/>
<rect x="590" y="671" width="1" height="1" fill="#c0c0c0"/>
<rect x="598" y="671" width="1" height="4" fill="#c0c0c0"/>
<rect x="606" y="671" width="1" height="2" fill="#c0c0c0"/>
<rect x="614" y="671" width="1" height="1" fill="#c0c0c0"/>
<rect x="622" y="671" width="1" height="1" fill="#c0c0c0"/>
<rect x="630" y="671" width="1" height="1" fill="#c0c0c0"/>
<rect x="638" y="669" width="1" height="2" fill="#c0c0c0"/>
<rect x="646" y="668" width="1" height="3" fill="#c0c0c0"/>
<rect x="654" y="666" width="1" height="5" fill="#c0c0c0"/>
<rect x="662" y="662" width="1" height="9" fill="#c0c0c0"/>
<rect x="670" y="659" width="1" height="12" fill="#c0c0c0"/>
<rect x="678" y="655" width="1" height="16" fill="#c0c0c0"/>
<rect x="686" y="654" width="1" height="17" fill="#c0c0c0"/>
<rect x="694" y="653" width="1" height="18" fill="#c0c0c0"/>
<rect x="702" y="655" width="1" height="16" fill="#c0c0c0"/>
<rect x="710" y="660" width="1" height="11" fill="#c0c0c0"/>
<rect x="718" y="668" width="1" height="3" fill="#c0c0c0"/>
<rect x="726" y="671" width="1" height="1" fill="#c0c0c0"/>
<rect x="734" y="671" width="1" height="3" fill="#c0c0c0"/>
<rect x="742" y="671" width="1" height="4" fill="#c0c0c0"/>
<rect x="750" y="671" width="1" height="5" fill="#c0c0c0"/>
<rect x="758" y="671" width="1" height="9" fill="#c0c0c0"/>
<rect x="766" y="671" width="1" height="7" fill="#c0c0c0"/>
<rect x="774" y="671" width="1" height="2" fill="#c0c0c0"/>
<rect x="782" y="671" width="1" height="1" fill="#c0c0c0"/>
<rect x="790" y="669" width="1" height="2" fill="#c0c0c0"/>
<rect x="798" y="671" width="1" height="1" fill="#c0c0c0"/>
<rect x="806" y="669" width="1" height="2" fill="#c0c0c0"/>
<rect x="814" y="668" width="1" height="3" fill="#c0c0c0"/>
<rect x="822" y="667" width="1" height="4" fill="#c0c0c0"/>
<rect x="830" y="664" width="1" height="7" fill="#c0c0c0"/>
<rect x="838" y="663" width="1" height="8" fill="#c0c0c0"/>
<rect x="846" y="661" width="1" height="10" fill="#c0c0c0"/>
<rect x="854" y="662" width="1" height="9" fill="#c0c0c0"/>
<rect x="862" y="661" width="1" height="10" fill="#c0c0c0"/>
<rect x="870" y="660" width="1" height="11" fill="#c0c0c0"/>
<rect x="878" y="658" width="1" height="13" fill="#c0c0c0"/>
<rect x="886" y="658" width="1" height="13" fill="#c0c0c0"/>
<rect x="894" y="657" width="1" height="14" fill="#c0c0c0"/>
<rect x="902" y="655" width="1" height="16" fill="#c0c0c0"/>
<rect x="910" y="651" width="1" height="20" fill="#c0c0c0"/>
<rect x="918" y="649" width="1" height="22" fill="#c0c0c0"/>
<rect x="926" y="647" width="1" height="24" fill="#c0c0c0"/>
<rect x="934" y="645" width="1" height="26" fill="#c0c0c0"/>
<rect x="942" y="647" width="1" height="24" fill="#c0c0c0"/>
<rect x="950" y="647" width="1" height="24" fill="#c0c0c0"/>
<rect x="958" y="643" width="1" height="28" fill="#c0c0c0"/>
<rect x="966" y="641" width="1" height="30" fill="#c0c0c0"/>
<rect x="974" y="639" width="1" height="32" fill="#c0c0c0"/>
<rect x="982" y="636" width="1" height="35" fill="#c0c0c0"/>
<rect x="990" y="633" width="1" height="38" fill="#c0c0c0"/>
<rect x="998" y="631" width="1" height="40" fill="#c0c0c0"/>
<rect x="1006" y="633" width="1" height="38" fill="#c0c0c0"/>
<rect x="1014" y="634" width="1" height="37" fill="#c0c0c0"/>
<rect x="1022" y="636" width="1" height="35" fill="#c0c0c0"/>
<rect x="1030" y="637" width="1" height="34" fill="#c0c0c0"/>
<rect x="1038" y="637" width="1" height="34" fill="#c0c0c0"/>
<rect x="1046" y="637" width="1" height="34" fill="#c0c0c0"/>
<rect x="1054" y="637" width="1" height="34" fill="#c0c0c0"/>
<rect x="1062" y="635" width="1" height="36" fill="#c0c0c0"/>
<rect x="1070" y="634" width="1" height="37" fill="#c0c0c0"/>
<rect x="1078" y="635" width="1" height="36" fill="#c0c0c0"/>
<rect x="1086" y="635" width="1" height="36" fill="#c0c0c0"/>
<rect x="1094" y="635" width="1" height="36" fill="#c0c0c0"/>
<rect x="1102" y="635" width="1" height="36" fill="#c0c0c0"/>
<rect x="1110" y="635" width="1" height="36" fill="#c0c0c0"/>
<rect x="1118" y="637" width="1" height="34" fill="#c0c0c0"/>
<rect x="1126" y="640" width="1" height="31" fill="#c0c0c0"/>
<rect x="1134" y="638" width="1" height="33" fill="#c0c0c0"/>
<rect x="1142" y="635" width="1" height="36" fill="#c0c0c0"/>
<rect x="1150" y="631" width="1" height="40" fill="#c0c0c0"/>
<rect x="1158" y="627" width="1" height="44" fill="#c0c0c0"/>
<rect x="1166" y="622" width="1" height="49" fill="#c0c0c0"/>
<rect x="1174" y="618" width="1" height="53" fill="#c0c0c0"/>
<rect x="1182" y="616" width="1" height="55" fill="#c0c0c0"/>
<rect x="1190" y="614" width="1" height="57" fill="#c0c0c0"/>
<rect x="1198" y="608" width="1" height="63" fill="#c0c0c0"/>
<rect x="1206" y="604" width="1" height="67" fill="#c0c0c0"/>
<rect x="1214" y="601" width="1" height="70" fill="#c0c0c0"/>
<rect x="1222" y="599" width="1" height="72" fill="#c0c0c0"/>
<rect x="1230" y="596" width="1" height="75" fill="#c0c0c0"/>
<rect x="1238" y="593" width="1" height="78" fill="#c0c0c0"/>
<rect x="1246" y="590" width="1" height="81" fill="#c0c0c0"/>
<rect x="1254" y="589" width="1" height="82" fill="#c0c0c0"/>
<rect x="1262" y="587" width="1" height="84" fill="#c0c0c0"/>
<rect x="1270" y="590" width="1" height="81" fill="#c0c0c0"/>
<rect x="1278" y="599" width="1" height="72" fill="#c0c0c0"/>
<rect x="1286" y="603" width="1" height="68" fill="#c0c0c0"/>
<rect x="1294" y="606" width="1" height="65" fill="#c0c0c0"/>
<rect x="1302" y="608" width="1" height="63" fill="#c0c0c0"/>
<rect x="1310" y="611" width="1" height="60" fill="#c0c0c0"/>
<rect x="1318" y="616" width="1" height="55" fill="#c0c0c0"/>
<rect x="1326" y="624" width="1" height="47" fill="#c0c0c0"/>
<rect x="1334" y="631" width="1" height="40" fill="#c0c0c0"/>
<rect x="1342" y="643" width="1" height="28" fill="#c0c0c0"/>
<rect x="1350" y="652" width="1" height="19" fill="#c0c0c0"/>
<rect x="1358" y="660" width="1" height="11" fill="#c0c0c0"/>
<rect x="1366" y="665" width="1" height="6" fill="#c0c0c0"/>
<rect x="1374" y="668" width="1" height="3" fill="#c0c0c0"/>
<rect x="1382" y="671" width="1" height="13" fill="#c0c0c0"/>
<rect x="1390" y="671" width="1" height="24" fill="#c0c0c0"/>
<rect x="1398" y="671" width="1" height="34" fill="#c0c0c0"/>
<rect x="1406" y="671" width="1" height="40" fill="#c0c0c0"/>
</g>
<polyline points="-2.0,669.5 2.0,669.8 10.0,671.2 30.0,672.8 50.0,674.6 70.0,676.2 90.0,677.6 96.0,678.2 104.0,682.2 116.0,684.3 128.0,689.3 136.0,691.3 142.0,694.9 150.0,695.9 158.0,698.7 166.0,699.5 172.0,700.7 180.0,699.7 190.0,699.3 200.0,698.3 210.0,697.3 220.0,696.3 230.0,695.3 240.0,694.9 250.0,694.5 260.0,695.3 270.0,695.3 280.0,694.3 286.0,694.3 294.0,695.7 304.0,696.7 312.0,697.9 320.0,701.3 328.0,704.7 336.0,709.3 340.0,712.3 350.0,719.7 360.0,724.8 370.0,730.4 380.0,733.8 388.0,735.0 398.0,733.8 406.0,731.4 416.0,726.4 426.0,721.4 436.0,715.9 446.0,709.3 454.0,705.3 466.0,695.3 478.0,685.3 490.0,673.2 502.0,663.2 510.0,656.2 520.0,650.6 530.0,647.2 537.5,646.2 544.5,647.6 556.5,652.2 568.5,657.8 580.6,664.2 590.6,667.8 598.6,671.8 610.7,673.2 624.7,672.8 638.7,672.2 650.8,670.6 660.8,668.6 670.0,667.6 680.0,664.8 690.0,662.2 700.0,660.2 710.0,658.6 720.0,658.4 728.0,659.6 738.0,660.6 746.0,663.2 754.0,666.2 762.0,668.6 770.0,672.2 780.0,673.8 790.0,674.2 800.0,673.8 810.0,672.6 820.0,671.6 830.0,670.2 840.0,667.8 850.0,665.8 860.0,664.6 870.0,663.6 880.0,661.6 890.0,659.8 900.0,658.6 910.0,657.2 920.0,655.8 930.0,653.2 940.0,651.8 950.0,650.2 960.0,648.2 970.0,645.2 980.0,643.8 990.0,641.2 1002.0,638.6 1012.0,636.6 1020.0,634.7 1030.0,634.3 1050.0,634.3 1066.0,634.3 1074.0,635.3 1090.0,635.3 1106.0,634.7 1120.0,634.7 1130.0,635.3 1150.0,635.1 1160.0,634.1 1170.0,631.7 1180.0,630.1 1190.0,626.1 1200.0,621.1 1210.0,617.1 1220.0,611.7 1230.0,608.5 1240.0,603.7 1250.0,599.7 1258.6,597.7 1268.7,593.4 1280.7,593.4 1292.7,594.0 1302.7,595.7 1312.8,598.5 1322.8,602.5 1330.0,606.1 1340.0,613.1 1350.0,621.1 1360.0,628.1 1370.0,637.1 1380.0,647.2 1390.0,658.2 1398.0,667.2 1406.0,675.8" fill="none" stroke="#ff0000" stroke-width="1" stroke-dasharray="3 3" class="c"/>
<line x1="1329.0" y1="631.5" x2="1419.0" y2="705.9" stroke="#ff0000" stroke-width="3.1" stroke-linecap="butt" class="c"/>
<polygon points="1424.0,710.0 1414.8,707.8 1420.1,701.3" fill="#ff0000" class="c"/>
</g>
<g clip-path="url(#cpRsi)">
<line x1="3" y1="789.5" x2="1649" y2="789.5" stroke="#c0c0c0" stroke-width="1" stroke-dasharray="3 3" class="c"/>
<line x1="3" y1="840.5" x2="1649" y2="840.5" stroke="#c0c0c0" stroke-width="1" stroke-dasharray="3 3" class="c"/>
<line x1="3" y1="901.5" x2="1649" y2="901.5" stroke="#c0c0c0" stroke-width="1" stroke-dasharray="3 3" class="c"/>
<polyline points="-2.0,846.5 6.5,848.2 14.5,847.6 22.5,851.2 30.5,843.6 38.5,848.6 46.5,853.2 54.5,839.6 62.5,836.6 70.5,849.2 78.5,844.6 86.5,866.9 94.5,871.3 102.5,871.3 110.5,862.9 118.5,854.2 126.5,864.7 134.5,861.3 142.5,859.9 150.5,858.3 158.5,855.3 166.5,858.7 174.5,852.6 182.5,836.6 190.5,855.3 198.5,858.7 206.5,853.2 214.5,848.2 222.5,856.3 230.5,857.7 238.5,859.7 246.5,853.2 254.5,856.7 262.5,848.2 270.5,854.2 278.5,855.7 286.5,856.3 294.5,873.7 302.5,876.3 310.5,877.7 318.5,890.3 326.5,893.3 334.5,896.8 342.5,886.9 350.5,878.9 358.5,864.3 366.5,867.3 374.5,868.7 382.5,852.2 390.5,849.8 398.5,845.6 406.5,857.3 414.5,851.2 422.5,841.2 430.5,845.2 438.5,836.2 446.5,838.2 454.5,829.6 462.5,815.8 470.5,811.5 478.5,814.6 486.5,811.3 494.5,810.1 502.5,823.2 510.5,833.2 518.5,832.2 526.5,851.8 534.5,858.7 542.5,861.5 550.5,841.6 558.5,848.2 566.5,845.2 574.5,839.6 582.5,839.2 590.5,842.6 598.5,848.2 606.5,838.4 614.5,837.2 622.5,837.2 630.5,841.2 638.5,834.2 646.5,836.6 654.5,831.2 662.5,827.2 670.5,824.2 678.5,822.2 686.5,826.2 694.5,828.6 702.5,836.2 710.5,851.2 718.5,857.3 726.5,852.2 734.5,853.6 742.5,846.2 750.5,844.2 758.5,857.3 766.5,838.2 774.5,833.2 782.5,834.6 790.5,829.8 798.5,845.2 806.5,836.6 814.5,835.2 822.5,834.2 830.5,831.2 838.5,830.2 846.5,829.4 854.5,836.2 862.5,832.2 870.5,830.2 878.5,827.2 886.5,829.6 894.5,826.2 902.5,820.2 910.5,814.6 918.5,815.6 926.5,812.6 934.5,812.6 942.5,829.2 950.5,823.2 958.5,809.5 966.5,811.5 974.5,809.5 982.5,805.1 990.5,801.5 998.5,804.1 1006.5,822.2 1014.5,818.6 1022.5,819.6 1030.5,823.6 1038.5,816.2 1046.5,814.2 1054.5,811.1 1062.5,807.1 1070.5,805.1 1078.5,812.1 1086.5,810.1 1094.5,808.1 1102.5,806.1 1110.5,807.5 1118.5,818.2 1126.5,826.2 1134.5,807.1 1142.5,805.1 1150.5,795.5 1158.5,793.1 1166.5,791.1 1174.5,788.1 1182.5,792.5 1190.5,790.1 1198.5,783.1 1206.5,782.1 1214.5,781.1 1222.5,781.1 1230.5,778.1 1238.5,775.1 1246.5,774.1 1254.5,776.1 1262.5,775.1 1270.5,797.1 1278.5,826.2 1286.5,815.2 1294.5,814.2 1302.5,812.1 1310.5,813.2 1318.5,821.2 1326.5,839.2 1334.5,839.2 1342.5,857.3 1350.5,856.3 1358.5,856.3 1366.5,850.2 1374.5,864.3 1382.5,875.3 1390.5,878.3 1398.5,879.7 1406.5,876.3" fill="none" stroke="#1e90ff" stroke-width="1" class="c"/>
<line x1="1323.0" y1="820.2" x2="1403.4" y2="883.0" stroke="#ff0000" stroke-width="3.1" stroke-linecap="butt" class="c"/>
<polygon points="1408.5,887.0 1399.2,885.1 1404.4,878.5" fill="#ff0000" class="c"/>
</g>
<g class="c">
<rect x="1650" y="44" width="3" height="1" fill="#000"/>
<rect x="1650" y="77" width="3" height="1" fill="#000"/>
<rect x="1650" y="110" width="3" height="1" fill="#000"/>
<rect x="1650" y="143" width="3" height="1" fill="#000"/>
<rect x="1650" y="176" width="3" height="1" fill="#000"/>
<rect x="1650" y="209" width="3" height="1" fill="#000"/>
<rect x="1650" y="242" width="3" height="1" fill="#000"/>
<rect x="1650" y="275" width="3" height="1" fill="#000"/>
<rect x="1650" y="308" width="3" height="1" fill="#000"/>
<rect x="1650" y="341" width="3" height="1" fill="#000"/>
<rect x="1650" y="374" width="3" height="1" fill="#000"/>
<rect x="1650" y="407" width="3" height="1" fill="#000"/>
<rect x="1650" y="440" width="3" height="1" fill="#000"/>
<rect x="1650" y="473" width="3" height="1" fill="#000"/>
<rect x="1650" y="506" width="3" height="1" fill="#000"/>
<rect x="1650" y="539" width="3" height="1" fill="#000"/>
<rect x="1650" y="572" width="3" height="1" fill="#000"/>
<rect x="1650" y="579" width="2" height="1" fill="#000"/>
<rect x="1650" y="671" width="3" height="1" fill="#000"/>
<rect x="1650" y="750" width="2" height="1" fill="#000"/>
<rect x="1650" y="755" width="2" height="1" fill="#000"/>
</g>
<text x="1655.60" y="47.60" font-size="9.3" fill="#000" text-anchor="start" textLength="31.80" lengthAdjust="spacingAndGlyphs">168.950</text>
<text x="1655.60" y="80.60" font-size="9.3" fill="#000" text-anchor="start" textLength="31.80" lengthAdjust="spacingAndGlyphs">168.100</text>
<text x="1655.60" y="113.60" font-size="9.3" fill="#000" text-anchor="start" textLength="31.80" lengthAdjust="spacingAndGlyphs">167.250</text>
<text x="1655.60" y="146.60" font-size="9.3" fill="#000" text-anchor="start" textLength="31.80" lengthAdjust="spacingAndGlyphs">166.400</text>
<text x="1655.60" y="179.60" font-size="9.3" fill="#000" text-anchor="start" textLength="31.80" lengthAdjust="spacingAndGlyphs">165.525</text>
<text x="1655.60" y="212.60" font-size="9.3" fill="#000" text-anchor="start" textLength="31.80" lengthAdjust="spacingAndGlyphs">164.675</text>
<text x="1655.60" y="245.60" font-size="9.3" fill="#000" text-anchor="start" textLength="31.80" lengthAdjust="spacingAndGlyphs">163.825</text>
<text x="1655.60" y="278.60" font-size="9.3" fill="#000" text-anchor="start" textLength="31.80" lengthAdjust="spacingAndGlyphs">162.975</text>
<text x="1655.60" y="311.60" font-size="9.3" fill="#000" text-anchor="start" textLength="31.80" lengthAdjust="spacingAndGlyphs">162.125</text>
<text x="1655.60" y="344.60" font-size="9.3" fill="#000" text-anchor="start" textLength="31.80" lengthAdjust="spacingAndGlyphs">161.275</text>
<text x="1655.60" y="377.60" font-size="9.3" fill="#000" text-anchor="start" textLength="31.80" lengthAdjust="spacingAndGlyphs">160.425</text>
<text x="1655.60" y="410.60" font-size="9.3" fill="#000" text-anchor="start" textLength="31.80" lengthAdjust="spacingAndGlyphs">159.575</text>
<text x="1655.60" y="443.60" font-size="9.3" fill="#000" text-anchor="start" textLength="31.80" lengthAdjust="spacingAndGlyphs">158.725</text>
<text x="1655.60" y="476.60" font-size="9.3" fill="#000" text-anchor="start" textLength="31.80" lengthAdjust="spacingAndGlyphs">157.875</text>
<text x="1655.60" y="509.60" font-size="9.3" fill="#000" text-anchor="start" textLength="31.80" lengthAdjust="spacingAndGlyphs">157.025</text>
<text x="1655.60" y="542.60" font-size="9.3" fill="#000" text-anchor="start" textLength="31.80" lengthAdjust="spacingAndGlyphs">156.175</text>
<text x="1655.60" y="575.60" font-size="9.3" fill="#000" text-anchor="start" textLength="31.80" lengthAdjust="spacingAndGlyphs">155.325</text>
<text x="1653.70" y="588.00" font-size="9.3" fill="#000" text-anchor="start" textLength="26.91" lengthAdjust="spacingAndGlyphs">1.5593</text>
<text x="1653.60" y="674.60" font-size="9.3" fill="#000" text-anchor="start" textLength="17.12" lengthAdjust="spacingAndGlyphs">0.00</text>
<text x="1652.90" y="748.00" font-size="9.3" fill="#000" text-anchor="start" textLength="24.94" lengthAdjust="spacingAndGlyphs">-1.353</text>
<text x="1653.40" y="764.00" font-size="9.3" fill="#000" text-anchor="start" textLength="14.68" lengthAdjust="spacingAndGlyphs">100</text>
<text x="1652.30" y="792.80" font-size="9.3" fill="#000" text-anchor="start" textLength="9.78" lengthAdjust="spacingAndGlyphs">80</text>
<text x="1652.30" y="843.80" font-size="9.3" fill="#000" text-anchor="start" textLength="9.78" lengthAdjust="spacingAndGlyphs">50</text>
<text x="1652.30" y="904.80" font-size="9.3" fill="#000" text-anchor="start" textLength="9.78" lengthAdjust="spacingAndGlyphs">15</text>
<text x="1653.40" y="923.80" font-size="9.3" fill="#000" text-anchor="start" textLength="4.89" lengthAdjust="spacingAndGlyphs">0</text>
<rect x="1651" y="175" width="41" height="11" fill="#ff0000" class="c"/>
<text x="1655.60" y="183.70" font-size="9.3" fill="#fff" text-anchor="start" textLength="31.80" lengthAdjust="spacingAndGlyphs">165.402</text>
<rect x="1651" y="209" width="41" height="11" fill="#ff0000" class="c"/>
<text x="1655.60" y="217.70" font-size="9.3" fill="#fff" text-anchor="start" textLength="31.80" lengthAdjust="spacingAndGlyphs">164.526</text>
<rect x="1651" y="241" width="41" height="11" fill="#32cd32" class="c"/>
<text x="1655.60" y="249.70" font-size="9.3" fill="#fff" text-anchor="start" textLength="31.80" lengthAdjust="spacingAndGlyphs">163.701</text>
<rect x="1651" y="262" width="41" height="11" fill="#000000" class="c"/>
<text x="1655.60" y="270.70" font-size="9.3" fill="#fff" text-anchor="start" textLength="31.80" lengthAdjust="spacingAndGlyphs">163.149</text>
<rect x="1651" y="293" width="41" height="11" fill="#0000ff" class="c"/>
<text x="1655.60" y="301.70" font-size="9.3" fill="#fff" text-anchor="start" textLength="31.80" lengthAdjust="spacingAndGlyphs">162.362</text>
<rect x="1651" y="328" width="41" height="11" fill="#0000ff" class="c"/>
<text x="1655.60" y="336.70" font-size="9.3" fill="#fff" text-anchor="start" textLength="31.80" lengthAdjust="spacingAndGlyphs">161.460</text>
<g class="c">
<rect x="54" y="928" width="1" height="3" fill="#000"/>
<rect x="118" y="928" width="1" height="3" fill="#000"/>
<rect x="182" y="928" width="1" height="3" fill="#000"/>
<rect x="246" y="928" width="1" height="3" fill="#000"/>
<rect x="310" y="928" width="1" height="3" fill="#000"/>
<rect x="374" y="928" width="1" height="3" fill="#000"/>
<rect x="438" y="928" width="1" height="3" fill="#000"/>
<rect x="502" y="928" width="1" height="3" fill="#000"/>
<rect x="566" y="928" width="1" height="3" fill="#000"/>
<rect x="630" y="928" width="1" height="3" fill="#000"/>
<rect x="694" y="928" width="1" height="3" fill="#000"/>
<rect x="758" y="928" width="1" height="3" fill="#000"/>
<rect x="822" y="928" width="1" height="3" fill="#000"/>
<rect x="886" y="928" width="1" height="3" fill="#000"/>
<rect x="950" y="928" width="1" height="3" fill="#000"/>
<rect x="1014" y="928" width="1" height="3" fill="#000"/>
<rect x="1078" y="928" width="1" height="3" fill="#000"/>
<rect x="1142" y="928" width="1" height="3" fill="#000"/>
<rect x="1206" y="928" width="1" height="3" fill="#000"/>
<rect x="1270" y="928" width="1" height="3" fill="#000"/>
<rect x="1334" y="928" width="1" height="3" fill="#000"/>
<rect x="1398" y="928" width="1" height="3" fill="#000"/>
</g>
<text x="-11.50" y="940.00" font-size="9.3" fill="#000" text-anchor="start" textLength="50.54" lengthAdjust="spacingAndGlyphs">3 May 2022</text>
<text x="52.50" y="940.00" font-size="9.3" fill="#000" text-anchor="start" textLength="53.22" lengthAdjust="spacingAndGlyphs">4 May 16:00</text>
<text x="116.50" y="940.00" font-size="9.3" fill="#000" text-anchor="start" textLength="53.22" lengthAdjust="spacingAndGlyphs">6 May 00:00</text>
<text x="180.50" y="940.00" font-size="9.3" fill="#000" text-anchor="start" textLength="53.22" lengthAdjust="spacingAndGlyphs">9 May 08:00</text>
<text x="244.50" y="940.00" font-size="9.3" fill="#000" text-anchor="start" textLength="58.60" lengthAdjust="spacingAndGlyphs">10 May 16:00</text>
<text x="308.50" y="940.00" font-size="9.3" fill="#000" text-anchor="start" textLength="58.60" lengthAdjust="spacingAndGlyphs">12 May 00:00</text>
<text x="372.50" y="940.00" font-size="9.3" fill="#000" text-anchor="start" textLength="58.60" lengthAdjust="spacingAndGlyphs">13 May 08:00</text>
<text x="436.50" y="940.00" font-size="9.3" fill="#000" text-anchor="start" textLength="58.60" lengthAdjust="spacingAndGlyphs">16 May 16:00</text>
<text x="500.50" y="940.00" font-size="9.3" fill="#000" text-anchor="start" textLength="58.60" lengthAdjust="spacingAndGlyphs">18 May 00:00</text>
<text x="564.50" y="940.00" font-size="9.3" fill="#000" text-anchor="start" textLength="58.60" lengthAdjust="spacingAndGlyphs">19 May 08:00</text>
<text x="628.50" y="940.00" font-size="9.3" fill="#000" text-anchor="start" textLength="58.60" lengthAdjust="spacingAndGlyphs">20 May 16:00</text>
<text x="692.50" y="940.00" font-size="9.3" fill="#000" text-anchor="start" textLength="58.60" lengthAdjust="spacingAndGlyphs">24 May 00:00</text>
<text x="756.50" y="940.00" font-size="9.3" fill="#000" text-anchor="start" textLength="58.60" lengthAdjust="spacingAndGlyphs">25 May 08:00</text>
<text x="820.50" y="940.00" font-size="9.3" fill="#000" text-anchor="start" textLength="58.60" lengthAdjust="spacingAndGlyphs">26 May 16:00</text>
<text x="884.50" y="940.00" font-size="9.3" fill="#000" text-anchor="start" textLength="58.60" lengthAdjust="spacingAndGlyphs">30 May 00:00</text>
<text x="948.50" y="940.00" font-size="9.3" fill="#000" text-anchor="start" textLength="58.60" lengthAdjust="spacingAndGlyphs">31 May 08:00</text>
<text x="1012.50" y="940.00" font-size="9.3" fill="#000" text-anchor="start" textLength="50.55" lengthAdjust="spacingAndGlyphs">1 Jun 16:00</text>
<text x="1076.50" y="940.00" font-size="9.3" fill="#000" text-anchor="start" textLength="50.55" lengthAdjust="spacingAndGlyphs">3 Jun 00:00</text>
<text x="1140.50" y="940.00" font-size="9.3" fill="#000" text-anchor="start" textLength="50.55" lengthAdjust="spacingAndGlyphs">6 Jun 08:00</text>
<text x="1204.50" y="940.00" font-size="9.3" fill="#000" text-anchor="start" textLength="50.55" lengthAdjust="spacingAndGlyphs">7 Jun 16:00</text>
<text x="1268.50" y="940.00" font-size="9.3" fill="#000" text-anchor="start" textLength="50.55" lengthAdjust="spacingAndGlyphs">9 Jun 00:00</text>
<text x="1332.50" y="940.00" font-size="9.3" fill="#000" text-anchor="start" textLength="55.93" lengthAdjust="spacingAndGlyphs">10 Jun 08:00</text>
<text x="1396.50" y="940.00" font-size="9.3" fill="#000" text-anchor="start" textLength="55.93" lengthAdjust="spacingAndGlyphs">13 Jun 16:00</text>
<text x="4.90" y="37.90" font-size="9.3" fill="#000" text-anchor="start" textLength="200.20" lengthAdjust="spacingAndGlyphs">GBPJPY-,H4  162.908 163.170 162.868 163.149</text>
<text x="-3.20" y="590.20" font-size="9.3" fill="#000" text-anchor="start" textLength="131.00" lengthAdjust="spacingAndGlyphs">MACD(12,26,9) -0.6882 -0.0908</text>
<text x="-4.60" y="766.00" font-size="9.3" fill="#000" text-anchor="start" textLength="66.50" lengthAdjust="spacingAndGlyphs">RSI(14) 29.7832</text>
<g>
<rect x="0" y="46" width="212" height="57" fill="#fff" class="c"/>
<rect x="0" y="46" width="44" height="25" fill="url(#gSell)" class="c"/>
<rect x="160" y="46" width="52" height="25" fill="url(#gSell)" class="c"/>
<rect x="0" y="70" width="102" height="33" fill="url(#gPrice)" class="c"/>
<rect x="104" y="70" width="108" height="33" fill="url(#gPrice)" class="c"/>
<rect x="0" y="70" width="41" height="1" fill="#f59a9a" class="c"/>
<rect x="164" y="70" width="44" height="1" fill="#f59a9a" class="c"/>
<rect x="47.5" y="46.5" width="110" height="21" fill="#fff" stroke="#a9a9a9" class="c"/>
<rect x="48.5" y="47.5" width="19" height="19" fill="url(#gBtn)" stroke="#c4c4c4" class="c"/>
<rect x="137.5" y="47.5" width="19" height="19" fill="url(#gBtn)" stroke="#c4c4c4" class="c"/>
<polygon points="54.9,55.4 60.5,55.4 57.7,58.6" fill="#5562c0"/>
<polygon points="143.8,58.2 149.4,58.2 146.6,55" fill="#5562c0"/>
<text x="132.60" y="61.30" font-size="12.3" fill="#000" text-anchor="end" textLength="23.00" lengthAdjust="spacingAndGlyphs">1.00</text>
<text x="5.50" y="61.50" font-size="11.7" fill="#fff" text-anchor="start" textLength="25.40" lengthAdjust="spacingAndGlyphs">SELL</text>
<text x="173.80" y="61.50" font-size="11.7" fill="#fff" text-anchor="start" textLength="22.30" lengthAdjust="spacingAndGlyphs">BUY</text>
<text x="16.60" y="97.50" font-size="11" fill="#fff" text-anchor="start" textLength="20.00" lengthAdjust="spacingAndGlyphs" font-weight="bold">163</text>
<text x="42.20" y="97.50" font-size="33" fill="#fff" text-anchor="start" textLength="33.00" lengthAdjust="spacingAndGlyphs">14</text>
<text x="79.80" y="82.00" font-size="12.5" fill="#fff" text-anchor="start" textLength="7.20" lengthAdjust="spacingAndGlyphs" font-weight="bold">9</text>
<text x="126.50" y="97.50" font-size="11" fill="#fff" text-anchor="start" textLength="20.10" lengthAdjust="spacingAndGlyphs" font-weight="bold">163</text>
<text x="152.40" y="97.50" font-size="33" fill="#fff" text-anchor="start" textLength="32.40" lengthAdjust="spacingAndGlyphs">23</text>
<text x="191.60" y="82.00" font-size="12.5" fill="#fff" text-anchor="start" textLength="6.20" lengthAdjust="spacingAndGlyphs" font-weight="bold">1</text>
</g>
<path d="M0 6l1.6 1.4L0 8.8z" fill="#222"/><path d="M0 14.5l2.2 2.3L1 19H0z" fill="#c9992a"/>
<rect x="10" y="0" width="1" height="20" fill="#a0a0a0" class="c"/>
<path d="M20.7 2.6h7l3.7 3.7v9.3H20.7z" fill="#fff" stroke="#7c7c7c" stroke-width="1"/><path d="M27.7 2.6v3.7h3.7" fill="#e4e4e4" stroke="#7c7c7c" stroke-width="0.9"/>
<g stroke="#9a9a9a" stroke-width="1" class="c"><path d="M22.5 5.5h3M22.5 8.5h6M22.5 10.5h6M22.5 12.5h3"/></g>
<path d="M28.2 8.6h3.6v3.8h4v3.6h-4v3.9h-3.6v-3.9h-4v-3.6h4z" fill="#34d934" stroke="#129112" stroke-width="0.9"/>
<g transform="translate(39.0,3.0)" stroke="#000" stroke-width="1.05" fill="none" stroke-linecap="square"><path d="M2.6 0v1.2"/><path d="M0 1.7h5.6"/><path d="M1.3 2.6l.5 1.5M4.3 2.6l-.5 1.5"/><path d="M0 4.6h5.6"/><path d="M.3 6.7h5"/><path d="M2.8 4.6v6.2l-.9-.4"/><path d="M2.4 7.2L.3 9.6"/><path d="M3.3 7.6l1.6 1.8"/><path d="M10.6.6L7 1.9"/><path d="M7 1.9v4.2q0 3-1.1 4.9"/><path d="M7 4.6h4"/><path d="M9.3 4.6V11"/></g>
<g transform="translate(51.4,3.0)" stroke="#000" stroke-width="1.05" fill="none" stroke-linecap="square"><path d="M.8.5l1 1.3"/><path d="M0 4h2v5.6l1.5-1.4"/><path d="M3.9 1.6H11"/><path d="M7.5 1.6v9l-1.5-.4"/></g>
<g transform="translate(63.6,3.0)" stroke="#000" stroke-width="1.05" fill="none" stroke-linecap="square"><path d="M3 0l.9 1.5M8 0l-.9 1.5"/><path d="M1.5 2.3h8v4.5h-8z"/><path d="M1.5 4.55h8"/><path d="M5.5 2.3V11"/><path d="M0 8.8h11"/></g>
<defs><linearGradient id="gGold" x1="0" y1="0" x2="1" y2="1"><stop offset="0" stop-color="#f7d768"/><stop offset="0.5" stop-color="#e9b625"/><stop offset="1" stop-color="#b9800f"/></linearGradient></defs>
<path d="M95.6 3.4l7.2 5.6q.6 2-.6 3.4l-6.4 5.6q-1.2.4-2-.2l-6.4-5.4z" fill="url(#gGold)" stroke="#a87410" stroke-width="0.9"/><path d="M93.6 5.6l7.4 5.6-5.6 5.2" fill="none" stroke="#fbe9a0" stroke-width="0.9"/>
<defs><linearGradient id="gCloud" x1="0" y1="0" x2="0" y2="1"><stop offset="0" stop-color="#ffffff"/><stop offset="1" stop-color="#cfd6e6"/></linearGradient></defs>
<path d="M117.2 3.9l3-1.7v9l-3 1.3z" fill="#0b7be4"/><rect x="120.2" y="2.2" width="7.6" height="9.2" fill="#2ea6ff"/><path d="M117.2 3.9l3-1.7h7.6" fill="none" stroke="#7fcaff" stroke-width="0.8"/><rect x="122.1" y="5.8" width="4.6" height="2" fill="#d9edff"/>
<path d="M117.6 17.6a2.5 2.5 0 0 1 .3-5 3.4 3.4 0 0 1 6-1.6 3.1 3.1 0 0 1 5 2.2 2.2 2.2 0 0 1-.5 4.4z" fill="url(#gCloud)" stroke="#5f6f9f" stroke-width="0.9"/>
<path d="M151.1 9.8v7.8a7.8 7.8 0 0 0 3.6-14.7z" fill="#8cc88c" opacity="0.55"/>
<g fill="none"><circle cx="151.1" cy="9.8" r="7.5" stroke="#b7c8ea" stroke-width="1"/><circle cx="151.1" cy="9.8" r="5.3" stroke="#7b9be0" stroke-width="1.1" stroke-dasharray="5 1.5"/><circle cx="151.1" cy="9.8" r="3.2" stroke="#9db7ea" stroke-width="0.9"/></g>
<path d="M151.3 10v7.6q2.4-.2 4-1.8" fill="none" stroke="#1fa41f" stroke-width="1.5"/><circle cx="151.1" cy="9.6" r="1.9" fill="#2b5fd0"/>
<path d="M170.6 9l14.4-.6-4.4 7-2.2 2.2-2-1.6z" fill="#f5d347" stroke="#c9a01c" stroke-width="0.9"/><path d="M170.2 7.2q1-2 4-2.2.4-2.6 3.6-2.8 3.4 0 3.8 2.6 3.6.2 4 2-3 2.4-7.8 2.4t-7.6-2z" fill="#52a8e0" stroke="#2e7fbd" stroke-width="0.8"/>
<circle cx="182.4" cy="13.6" r="4.1" fill="#e2200f"/><rect x="181" y="12.2" width="2.8" height="2.8" fill="#fff"/>
<g transform="translate(191.6,3.0)" stroke="#000" stroke-width="1.05" fill="none" stroke-linecap="square"><path d="M5.2 0l-.9 1.8"/><path d="M1.9 2.1h7.3v8.8H1.9z"/><path d="M1.9 5h7.3M1.9 7.9h7.3"/></g>
<g transform="translate(203.7,3.0)" stroke="#000" stroke-width="1.05" fill="none" stroke-linecap="square"><path d="M.6 1.6h4.4"/><path d="M0 4.6h5.6"/><path d="M2.6 4.6L.8 9l3.8-.6"/><path d="M4 7l1.2 2.8"/><path d="M6 3.1h4.6l-.3 6.9-1.2.7"/><path d="M8.3.3v4.4q0 3.6-2.3 6.3"/></g>
<g transform="translate(215.8,3.0)" stroke="#000" stroke-width="1.05" fill="none" stroke-linecap="square"><path d="M5.5 0v1.5"/><path d="M.3 2.1h10.4"/><path d="M3.6 3.4l-2 2.1M7.5 3.4l2 2.1"/><path d="M8 5.6Q6 9.6.5 11"/><path d="M3 5.6Q5 9.6 10.8 11"/></g>
<g transform="translate(227.9,3.0)" stroke="#000" stroke-width="1.05" fill="none" stroke-linecap="square"><path d="M2.6.6h6v4.4h-6z"/><path d="M2.6 2.8h6"/><path d="M3 5L.5 7.9"/><path d="M2.1 6.6H10l-.5 3.9-1.2.5"/><path d="M5.1 6.6L2 10.6"/><path d="M7.6 6.6L4.5 11"/></g>
<rect x="247" y="0" width="1" height="20" fill="#a0a0a0" class="c"/>
<g class="c">
<rect x="250" y="2" width="3" height="1" fill="#b4b4b4"/>
<rect x="250" y="4" width="3" height="1" fill="#b4b4b4"/>
<rect x="250" y="6" width="3" height="1" fill="#b4b4b4"/>
<rect x="250" y="8" width="3" height="1" fill="#b4b4b4"/>
<rect x="250" y="10" width="3" height="1" fill="#b4b4b4"/>
<rect x="250" y="12" width="3" height="1" fill="#b4b4b4"/>
<rect x="250" y="14" width="3" height="1" fill="#b4b4b4"/>
<rect x="250" y="16" width="3" height="1" fill="#b4b4b4"/>
<rect x="250" y="18" width="3" height="1" fill="#b4b4b4"/>
</g>
<g stroke="#5a5a5a" stroke-width="1.1" fill="none"><path d="M264.5 17.6V4.6M262 15.6H275.6"/></g>
<path d="M264.5 3.6l-1.7 2.6h3.4zM276.6 15.6l-2.6-1.7v3.4z" fill="#5a5a5a"/>
<path d="M270.8 5.6v8M270.8 6.2h2.2M268.4 13h2.4" stroke="#129412" stroke-width="1.5" fill="none"/>
<rect x="284" y="0" width="1" height="20" fill="#a0a0a0" class="c"/>
<rect x="285" y="0" width="24" height="20" fill="#f9f9f9" class="c"/>
<g stroke="#5a5a5a" stroke-width="1.1" fill="none"><path d="M292.5 17.6V4.6M290 15.6H303.6"/></g>
<path d="M292.5 3.6l-1.7 2.6h3.4zM304.6 15.6l-2.6-1.7v3.4z" fill="#5a5a5a"/>
<path d="M298.4 2.2v12" stroke="#108410" stroke-width="1"/><rect x="296.3" y="4.5" width="4.3" height="7.3" fill="#2fd02f" stroke="#108410" stroke-width="0.9"/>
<g stroke="#5a5a5a" stroke-width="1.1" fill="none"><path d="M320.5 17.6V4.6M318 15.6H331.6"/></g>
<path d="M320.5 3.6l-1.7 2.6h3.4zM332.6 15.6l-2.6-1.7v3.4z" fill="#5a5a5a"/>
<path d="M319.4 12.6q3.2-6.4 5.6-5.4t5.4 4.4" stroke="#129412" stroke-width="1.4" fill="none"/>
<rect x="341" y="0" width="1" height="20" fill="#a0a0a0" class="c"/>
<path d="M360.09999999999997 11.9l4.7 4.7" stroke="#b07a12" stroke-width="3.6" stroke-linecap="butt"/><path d="M360.09999999999997 11.9l4.7 4.7" stroke="#f2da48" stroke-width="2" stroke-linecap="butt"/>
<circle cx="356.2" cy="8" r="5.5" fill="#dcf1ff" stroke="#3b80ca" stroke-width="1.4"/>
<path d="M352.8 8h6.8M356.2 4.6v6.8" stroke="#3b8dbb" stroke-width="1.9"/>
<path d="M388.0 11.9l4.7 4.7" stroke="#b07a12" stroke-width="3.6" stroke-linecap="butt"/><path d="M388.0 11.9l4.7 4.7" stroke="#f2da48" stroke-width="2" stroke-linecap="butt"/>
<circle cx="384.1" cy="8" r="5.5" fill="#dcf1ff" stroke="#3b80ca" stroke-width="1.4"/>
<path d="M380.70000000000005 8h6.8" stroke="#3b8dbb" stroke-width="1.9"/>
<rect x="406.2" y="2.2" width="7.8" height="7.7" fill="#2f9b1f"/><rect x="407.2" y="5.300000000000001" width="5.8" height="3.8" fill="#fff"/><rect x="408.2" y="6.5" width="3.8" height="0.9" fill="#a6dc98"/><rect x="407.2" y="3.2" width="0.9" height="0.9" fill="#dfe8f4"/><rect x="408.59999999999997" y="9.100000000000001" width="3" height="0.5" fill="#2f9b1f"/>
<rect x="414.2" y="2.2" width="7.8" height="7.7" fill="#2352cc"/><rect x="415.2" y="5.300000000000001" width="5.8" height="3.8" fill="#fff"/><rect x="416.2" y="6.5" width="3.8" height="0.9" fill="#9fb4ee"/><rect x="415.2" y="3.2" width="0.9" height="0.9" fill="#dfe8f4"/><rect x="416.59999999999997" y="9.100000000000001" width="3" height="0.5" fill="#2352cc"/>
<rect x="406.2" y="10.1" width="7.8" height="7.7" fill="#2352cc"/><rect x="407.2" y="13.2" width="5.8" height="3.8" fill="#fff"/><rect x="408.2" y="14.399999999999999" width="3.8" height="0.9" fill="#9fb4ee"/><rect x="407.2" y="11.1" width="0.9" height="0.9" fill="#dfe8f4"/><rect x="408.59999999999997" y="17.0" width="3" height="0.5" fill="#2352cc"/>
<rect x="414.2" y="10.1" width="7.8" height="7.7" fill="#2f9b1f"/><rect x="415.2" y="13.2" width="5.8" height="3.8" fill="#fff"/><rect x="416.2" y="14.399999999999999" width="3.8" height="0.9" fill="#a6dc98"/><rect x="415.2" y="11.1" width="0.9" height="0.9" fill="#dfe8f4"/><rect x="416.59999999999997" y="17.0" width="3" height="0.5" fill="#2f9b1f"/>
<rect x="431" y="0" width="1" height="20" fill="#a0a0a0" class="c"/>
<rect x="437" y="0" width="26" height="20" fill="#f9f9f9" class="c"/>
<rect x="436" y="0" width="1" height="20" fill="#a0a0a0" class="c"/>
<g stroke="#5a5a5a" stroke-width="1.1" fill="none"><path d="M444.3 17.6V4.6M441.8 15.6H455.40000000000003"/></g>
<path d="M444.3 3.6l-1.7 2.6h3.4zM456.40000000000003 15.6l-2.6-1.7v3.4z" fill="#5a5a5a"/>
<path d="M449.2 6.4l3.8 3.2-3.8 3.2z" fill="#7ee07e" stroke="#1fa01f" stroke-width="1"/>
<rect x="464" y="0" width="1" height="20" fill="#a0a0a0" class="c"/>
<rect x="465" y="0" width="27" height="20" fill="#f9f9f9" class="c"/>
<g stroke="#5a5a5a" stroke-width="1.1" fill="none"><path d="M472.3 17.6V4.6M469.8 15.6H483.40000000000003"/></g>
<path d="M472.3 3.6l-1.7 2.6h3.4zM484.40000000000003 15.6l-2.6-1.7v3.4z" fill="#5a5a5a"/>
<path d="M478.3 4v10.2" stroke="#2a62c4" stroke-width="1.2"/><path d="M484.4 9.6h-4M482.6 7.6l-2.6 2 2.6 2" stroke="#d23a12" stroke-width="1.2" fill="none"/>
<rect x="493" y="0" width="1" height="20" fill="#a0a0a0" class="c"/>
<path d="M503.6 2.6h6.4l3.3 3.3v8.4h-9.7z" fill="#fff" stroke="#7c7c7c" stroke-width="1"/><path d="M510 2.6v3.3h3.3" fill="#e4e4e4" stroke="#7c7c7c" stroke-width="0.9"/>
<path d="M508.6 5.2q-1.8-.4-1.9 1.6v5.6M505.6 8.3h2.8" stroke="#555" stroke-width="0.9" fill="none"/>
<path d="M511.6 8.3h3.6v3.6h3.9v3.6h-3.9v3.8h-3.6v-3.8h-3.9v-3.6h3.9z" fill="#34d934" stroke="#129112" stroke-width="0.9"/>
<polygon points="524.9,9.2 530.3000000000001,9.2 527.6,12" fill="#000"/>
<circle cx="549" cy="10" r="7" fill="#fff" stroke="#2b72db" stroke-width="2.1"/><circle cx="549" cy="10" r="8" fill="none" stroke="#1b56b5" stroke-width="0.5"/><path d="M549 5.6v4.6h3.4" stroke="#333" stroke-width="1.1" fill="none"/>
<g fill="#9aa"><circle cx="549" cy="4.4" r=".5"/><circle cx="549" cy="15.6" r=".5"/><circle cx="543.4" cy="10" r=".5"/><circle cx="554.6" cy="10" r=".5"/></g>
<polygon points="563.8,9.2 569.2,9.2 566.5,12" fill="#000"/>
<rect x="580.4" y="3.4" width="15.4" height="13" fill="#fff" stroke="#4b82d4" stroke-width="1"/><rect x="580.9" y="3.9" width="14.4" height="2" fill="#7fb0ee"/><path d="M580.9 11.5h14.4" stroke="#9fbfe8" stroke-width="0.8"/>
<path d="M582 9.2l2.4-1.2 2 .6 2.6-1.4 2 .6 3-1.4" stroke="#c62a1a" stroke-width="1.1" fill="none"/><path d="M582 14.6l2.4-1.4 2 1 2.6-2 2 1.6 3-1.4" stroke="#1f9a1f" stroke-width="1.1" fill="none"/>
<polygon points="602.6999999999999,9.2 608.1,9.2 605.4,12" fill="#000"/>
<rect x="614" y="0" width="1" height="21" fill="#a0a0a0" class="c"/>
<g class="c">
<rect x="618" y="2" width="3" height="1" fill="#b4b4b4"/>
<rect x="618" y="4" width="3" height="1" fill="#b4b4b4"/>
<rect x="618" y="6" width="3" height="1" fill="#b4b4b4"/>
<rect x="618" y="8" width="3" height="1" fill="#b4b4b4"/>
<rect x="618" y="10" width="3" height="1" fill="#b4b4b4"/>
<rect x="618" y="12" width="3" height="1" fill="#b4b4b4"/>
<rect x="618" y="14" width="3" height="1" fill="#b4b4b4"/>
<rect x="618" y="16" width="3" height="1" fill="#b4b4b4"/>
<rect x="618" y="18" width="3" height="1" fill="#b4b4b4"/>
</g>
<rect x="624" y="0" width="1" height="20" fill="#a0a0a0" class="c"/>
<rect x="625" y="0" width="24" height="20" fill="#f9f9f9" class="c"/>
<path d="M631.5 3.6v10.6l2.5-2.3 2.2 4.8 2-.9-2.2-4.6h3.6z" fill="#444"/>
<path d="M656.6 10.3h5.6M666.4 10.3h5.6M664.2 2.8v5.4M664.2 12.4v5.4" stroke="#505050" stroke-width="1.1"/><rect x="663.7" y="9.8" width="1" height="1" fill="#505050"/>
<rect x="681" y="0" width="1" height="20" fill="#a0a0a0" class="c"/>
<path d="M698.3 4v12.6M720.7 10.4h12.6M749 16.6L761.2 5.2" stroke="#505050" stroke-width="1.2"/>
<g stroke="#505050" stroke-width="1" fill="none"><path d="M775 13.2l11.4-9.6M776.4 16l12-10M779.6 17.2l9-7.6"/><path d="M778.2 9l2.6 6M781.2 6.4l2.8 6.4M784.2 4l2.8 6.4"/></g>
<path d="M789.9 15.2h-3.4v3.8h3.4M786.5 17.1h2.8" stroke="#333" stroke-width="1.1" fill="none"/>
<g stroke="#505050" stroke-width="1" stroke-dasharray="1 1" class="c"><path d="M804 3.5h13M804 6.5h13M804 10.5h13M804 14.5h9"/></g>
<path d="M817.1 14.9h-3.4v4.2M813.7 17h2.6" stroke="#333" stroke-width="1.1" fill="none"/>
<text x="834.60" y="14.80" font-size="12" fill="#555" text-anchor="start" textLength="7.80" lengthAdjust="spacingAndGlyphs">A</text>
<rect x="861" y="4" width="11" height="13" fill="none" stroke="#505050" stroke-width="1" stroke-dasharray="1 1" class="c"/>
<path d="M863.4 7.5h7.4" stroke="#505050" stroke-width="1.3"/><path d="M867.1 7.5v7.2" stroke="#505050" stroke-width="1.9"/><rect x="860" y="3.5" width="2" height="1" fill="#505050"/>
<path d="M891.5 4l3.5 4h-7z" fill="#555"/><path d="M890.2 11.3l2.1 2.2 4.5-5.4" stroke="#555" stroke-width="1.4" fill="none"/><path d="M895.2 13h6.6l-3.3 3.7z" fill="#555"/>
<polygon points="908.8,9.2 914.2,9.2 911.5,12" fill="#000"/>
<rect x="920" y="0" width="1" height="21" fill="#a0a0a0" class="c"/>
<g class="c">
<rect x="924" y="2" width="3" height="1" fill="#b4b4b4"/>
<rect x="924" y="4" width="3" height="1" fill="#b4b4b4"/>
<rect x="924" y="6" width="3" height="1" fill="#b4b4b4"/>
<rect x="924" y="8" width="3" height="1" fill="#b4b4b4"/>
<rect x="924" y="10" width="3" height="1" fill="#b4b4b4"/>
<rect x="924" y="12" width="3" height="1" fill="#b4b4b4"/>
<rect x="924" y="14" width="3" height="1" fill="#b4b4b4"/>
<rect x="924" y="16" width="3" height="1" fill="#b4b4b4"/>
<rect x="924" y="18" width="3" height="1" fill="#b4b4b4"/>
</g>
<rect x="1071" y="0" width="25" height="20" fill="#f9f9f9" class="c"/>
<rect x="1070" y="0" width="1" height="20" fill="#a0a0a0" class="c"/>
<text x="935.80" y="13.80" font-size="9.4" fill="#404040" text-anchor="start" textLength="12.20" lengthAdjust="spacingAndGlyphs">M1</text>
<text x="964.00" y="13.80" font-size="9.4" fill="#404040" text-anchor="start" textLength="12.00" lengthAdjust="spacingAndGlyphs">M5</text>
<text x="989.60" y="13.80" font-size="9.4" fill="#404040" text-anchor="start" textLength="17.70" lengthAdjust="spacingAndGlyphs">M15</text>
<text x="1017.60" y="13.80" font-size="9.4" fill="#404040" text-anchor="start" textLength="17.70" lengthAdjust="spacingAndGlyphs">M30</text>
<text x="1048.50" y="13.80" font-size="9.4" fill="#404040" text-anchor="start" textLength="11.80" lengthAdjust="spacingAndGlyphs">H1</text>
<text x="1075.80" y="13.80" font-size="9.4" fill="#404040" text-anchor="start" textLength="12.10" lengthAdjust="spacingAndGlyphs">H4</text>
<text x="1104.60" y="13.80" font-size="9.4" fill="#404040" text-anchor="start" textLength="11.80" lengthAdjust="spacingAndGlyphs">D1</text>
<text x="1132.60" y="13.80" font-size="9.4" fill="#404040" text-anchor="start" textLength="13.70" lengthAdjust="spacingAndGlyphs">W1</text>
<text x="1158.80" y="13.80" font-size="9.4" fill="#404040" text-anchor="start" textLength="14.30" lengthAdjust="spacingAndGlyphs">MN</text>
<rect x="1181" y="0" width="1" height="21" fill="#a0a0a0" class="c"/>
<path d="M1649.4 10.4l-5 4.6" stroke="#2f5fd0" stroke-width="2.4" stroke-linecap="round"/><circle cx="1652.1" cy="7.4" r="3.7" fill="#f4f6fb" stroke="#2f5fd0" stroke-width="1.3"/>
<path d="M1669 12.6a5.6 4.4 0 0 1 11.2 0 5.6 4.4 0 0 1-6.6 4.2l-2.4 1.8.4-2.4a5.6 4.4 0 0 1-2.6-3.6z" fill="#e4e6ea" stroke="#9a9ea6" stroke-width="0.9"/>
<circle cx="1682.5" cy="7.2" r="7.8" fill="url(#gBadge)"/>
<text x="1681.00" y="12.00" font-size="12.3" fill="#fff" text-anchor="middle">1</text>
</svg></body></html>
